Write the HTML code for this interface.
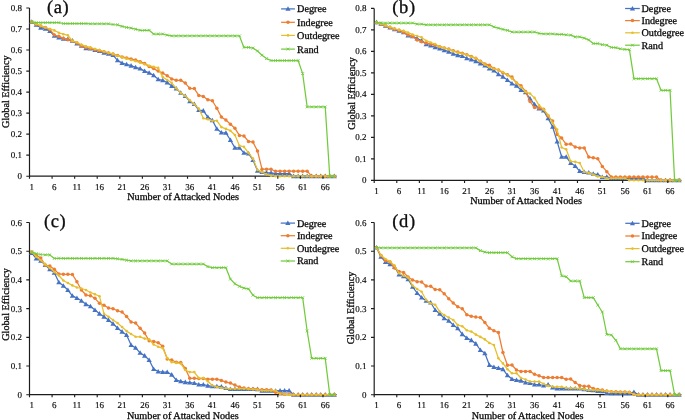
<!DOCTYPE html>
<html><head><meta charset="utf-8"><style>
html,body{margin:0;padding:0;background:#fff;}
svg{display:block;text-rendering:geometricPrecision;}
.tk{font-family:'Liberation Serif',serif;font-size:9px;fill:#0a0a0a;stroke:#0a0a0a;stroke-width:0.15px;}
.ti{font-family:'Liberation Serif',serif;font-size:10.2px;fill:#0a0a0a;stroke:#0a0a0a;stroke-width:0.3px;}
.pl{font-family:'Liberation Serif',serif;font-size:18.5px;fill:#0a0a0a;stroke:#0a0a0a;stroke-width:0.3px;letter-spacing:0.6px;}
</style></head><body>
<svg width="685" height="420" viewBox="0 0 685 420">
<defs><filter id="bl" x="0" y="0" width="100%" height="100%" filterUnits="userSpaceOnUse"><feConvolveMatrix order="3" kernelMatrix="0.0000 0.0000 0.0000 0.0000 1.0000 0.0000 0.0000 0.0000 0.0000" edgeMode="duplicate" preserveAlpha="true"/></filter></defs>
<g filter="url(#bl)">
<rect width="685" height="420" fill="#fff"/>
<path d="M29.50 7.96V176.20H336.52" fill="none" stroke="#1e1e1e" stroke-width="1.2"/>
<polyline points="31.76,21.80 36.27,24.90 40.79,27.70 45.30,28.70 49.82,31.10 54.33,35.90 58.85,37.50 63.36,38.80 67.88,39.10 72.39,40.70 76.91,43.50 81.42,45.80 85.94,48.30 90.45,48.60 94.97,50.00 99.48,51.10 104.00,52.70 108.51,53.70 113.03,55.10 117.54,60.30 122.06,63.10 126.57,64.30 131.09,65.70 135.60,67.40 140.12,68.60 144.63,71.10 149.15,72.90 153.66,75.40 158.18,79.30 162.69,80.30 167.21,82.60 171.72,86.00 176.24,88.60 180.75,92.90 185.27,96.00 189.78,101.40 194.30,104.00 198.81,110.00 203.33,110.70 207.84,117.10 212.36,120.30 216.87,128.90 221.39,132.60 225.90,132.90 230.42,140.00 234.93,147.90 239.45,147.90 243.96,152.90 248.48,153.60 252.99,160.00 257.51,170.70 262.02,172.10 266.54,172.60 271.05,172.90 275.57,173.60 280.08,173.60 284.60,173.60 289.11,173.60 293.63,176.20 298.14,176.20 302.66,176.20 307.17,176.20 311.69,176.20 316.20,176.20 320.72,176.20 325.23,176.20 329.75,176.20 334.26,176.20" fill="none" stroke="#4472C4" stroke-width="1.25" stroke-linejoin="round"/>
<path d="M31.76 19.20L34.36 23.75L29.16 23.75Z" fill="#4472C4"/><path d="M36.27 22.30L38.87 26.85L33.67 26.85Z" fill="#4472C4"/><path d="M40.79 25.10L43.39 29.65L38.19 29.65Z" fill="#4472C4"/><path d="M45.30 26.10L47.90 30.65L42.70 30.65Z" fill="#4472C4"/><path d="M49.82 28.50L52.42 33.05L47.22 33.05Z" fill="#4472C4"/><path d="M54.33 33.30L56.93 37.85L51.73 37.85Z" fill="#4472C4"/><path d="M58.85 34.90L61.45 39.45L56.25 39.45Z" fill="#4472C4"/><path d="M63.36 36.20L65.96 40.75L60.76 40.75Z" fill="#4472C4"/><path d="M67.88 36.50L70.48 41.05L65.28 41.05Z" fill="#4472C4"/><path d="M72.39 38.10L74.99 42.65L69.79 42.65Z" fill="#4472C4"/><path d="M76.91 40.90L79.51 45.45L74.31 45.45Z" fill="#4472C4"/><path d="M81.42 43.20L84.02 47.75L78.82 47.75Z" fill="#4472C4"/><path d="M85.94 45.70L88.54 50.25L83.34 50.25Z" fill="#4472C4"/><path d="M90.45 46.00L93.05 50.55L87.85 50.55Z" fill="#4472C4"/><path d="M94.97 47.40L97.57 51.95L92.37 51.95Z" fill="#4472C4"/><path d="M99.48 48.50L102.08 53.05L96.88 53.05Z" fill="#4472C4"/><path d="M104.00 50.10L106.60 54.65L101.40 54.65Z" fill="#4472C4"/><path d="M108.51 51.10L111.11 55.65L105.91 55.65Z" fill="#4472C4"/><path d="M113.03 52.50L115.63 57.05L110.43 57.05Z" fill="#4472C4"/><path d="M117.54 57.70L120.14 62.25L114.94 62.25Z" fill="#4472C4"/><path d="M122.06 60.50L124.66 65.05L119.46 65.05Z" fill="#4472C4"/><path d="M126.57 61.70L129.17 66.25L123.97 66.25Z" fill="#4472C4"/><path d="M131.09 63.10L133.69 67.65L128.49 67.65Z" fill="#4472C4"/><path d="M135.60 64.80L138.20 69.35L133.00 69.35Z" fill="#4472C4"/><path d="M140.12 66.00L142.72 70.55L137.52 70.55Z" fill="#4472C4"/><path d="M144.63 68.50L147.23 73.05L142.03 73.05Z" fill="#4472C4"/><path d="M149.15 70.30L151.75 74.85L146.55 74.85Z" fill="#4472C4"/><path d="M153.66 72.80L156.26 77.35L151.06 77.35Z" fill="#4472C4"/><path d="M158.18 76.70L160.78 81.25L155.58 81.25Z" fill="#4472C4"/><path d="M162.69 77.70L165.29 82.25L160.09 82.25Z" fill="#4472C4"/><path d="M167.21 80.00L169.81 84.55L164.61 84.55Z" fill="#4472C4"/><path d="M171.72 83.40L174.32 87.95L169.12 87.95Z" fill="#4472C4"/><path d="M176.24 86.00L178.84 90.55L173.64 90.55Z" fill="#4472C4"/><path d="M180.75 90.30L183.35 94.85L178.15 94.85Z" fill="#4472C4"/><path d="M185.27 93.40L187.87 97.95L182.67 97.95Z" fill="#4472C4"/><path d="M189.78 98.80L192.38 103.35L187.18 103.35Z" fill="#4472C4"/><path d="M194.30 101.40L196.90 105.95L191.70 105.95Z" fill="#4472C4"/><path d="M198.81 107.40L201.41 111.95L196.21 111.95Z" fill="#4472C4"/><path d="M203.33 108.10L205.93 112.65L200.73 112.65Z" fill="#4472C4"/><path d="M207.84 114.50L210.44 119.05L205.24 119.05Z" fill="#4472C4"/><path d="M212.36 117.70L214.96 122.25L209.76 122.25Z" fill="#4472C4"/><path d="M216.87 126.30L219.47 130.85L214.27 130.85Z" fill="#4472C4"/><path d="M221.39 130.00L223.99 134.55L218.79 134.55Z" fill="#4472C4"/><path d="M225.90 130.30L228.50 134.85L223.30 134.85Z" fill="#4472C4"/><path d="M230.42 137.40L233.02 141.95L227.82 141.95Z" fill="#4472C4"/><path d="M234.93 145.30L237.53 149.85L232.33 149.85Z" fill="#4472C4"/><path d="M239.45 145.30L242.05 149.85L236.85 149.85Z" fill="#4472C4"/><path d="M243.96 150.30L246.56 154.85L241.36 154.85Z" fill="#4472C4"/><path d="M248.48 151.00L251.08 155.55L245.88 155.55Z" fill="#4472C4"/><path d="M252.99 157.40L255.59 161.95L250.39 161.95Z" fill="#4472C4"/><path d="M257.51 168.10L260.11 172.65L254.91 172.65Z" fill="#4472C4"/><path d="M262.02 169.50L264.62 174.05L259.42 174.05Z" fill="#4472C4"/><path d="M266.54 170.00L269.14 174.55L263.94 174.55Z" fill="#4472C4"/><path d="M271.05 170.30L273.65 174.85L268.45 174.85Z" fill="#4472C4"/><path d="M275.57 171.00L278.17 175.55L272.97 175.55Z" fill="#4472C4"/><path d="M280.08 171.00L282.68 175.55L277.48 175.55Z" fill="#4472C4"/><path d="M284.60 171.00L287.20 175.55L282.00 175.55Z" fill="#4472C4"/><path d="M289.11 171.00L291.71 175.55L286.51 175.55Z" fill="#4472C4"/><path d="M293.63 173.60L296.23 178.15L291.03 178.15Z" fill="#4472C4"/><path d="M298.14 173.60L300.74 178.15L295.54 178.15Z" fill="#4472C4"/><path d="M302.66 173.60L305.26 178.15L300.06 178.15Z" fill="#4472C4"/><path d="M307.17 173.60L309.77 178.15L304.57 178.15Z" fill="#4472C4"/><path d="M311.69 173.60L314.29 178.15L309.09 178.15Z" fill="#4472C4"/><path d="M316.20 173.60L318.80 178.15L313.60 178.15Z" fill="#4472C4"/><path d="M320.72 173.60L323.32 178.15L318.12 178.15Z" fill="#4472C4"/><path d="M325.23 173.60L327.83 178.15L322.63 178.15Z" fill="#4472C4"/><path d="M329.75 173.60L332.35 178.15L327.15 178.15Z" fill="#4472C4"/><path d="M334.26 173.60L336.86 178.15L331.66 178.15Z" fill="#4472C4"/>
<polyline points="31.76,22.00 36.27,24.20 40.79,26.10 45.30,27.50 49.82,29.40 54.33,35.00 58.85,36.30 63.36,38.20 67.88,39.70 72.39,40.90 76.91,43.00 81.42,46.10 85.94,47.50 90.45,48.60 94.97,49.70 99.48,50.80 104.00,51.80 108.51,53.00 113.03,54.10 117.54,55.40 122.06,56.90 126.57,57.90 131.09,58.90 135.60,60.00 140.12,61.70 144.63,63.60 149.15,66.40 153.66,68.60 158.18,71.10 162.69,73.10 167.21,75.70 171.72,78.90 176.24,80.30 180.75,80.30 185.27,83.10 189.78,88.30 194.30,88.60 198.81,95.40 203.33,96.40 207.84,99.70 212.36,100.70 216.87,108.30 221.39,117.10 225.90,120.00 230.42,124.30 234.93,128.30 239.45,135.40 243.96,136.00 248.48,141.40 252.99,142.10 257.51,151.00 262.02,169.20 266.54,169.20 271.05,169.20 275.57,171.20 280.08,171.20 284.60,171.20 289.11,171.20 293.63,171.20 298.14,171.20 302.66,171.20 307.17,171.20 311.69,176.20 316.20,176.20 320.72,176.20 325.23,176.20 329.75,176.20 334.26,176.20" fill="none" stroke="#ED7D31" stroke-width="1.25" stroke-linejoin="round"/>
<circle cx="31.76" cy="22.00" r="1.75" fill="#ED7D31"/><circle cx="36.27" cy="24.20" r="1.75" fill="#ED7D31"/><circle cx="40.79" cy="26.10" r="1.75" fill="#ED7D31"/><circle cx="45.30" cy="27.50" r="1.75" fill="#ED7D31"/><circle cx="49.82" cy="29.40" r="1.75" fill="#ED7D31"/><circle cx="54.33" cy="35.00" r="1.75" fill="#ED7D31"/><circle cx="58.85" cy="36.30" r="1.75" fill="#ED7D31"/><circle cx="63.36" cy="38.20" r="1.75" fill="#ED7D31"/><circle cx="67.88" cy="39.70" r="1.75" fill="#ED7D31"/><circle cx="72.39" cy="40.90" r="1.75" fill="#ED7D31"/><circle cx="76.91" cy="43.00" r="1.75" fill="#ED7D31"/><circle cx="81.42" cy="46.10" r="1.75" fill="#ED7D31"/><circle cx="85.94" cy="47.50" r="1.75" fill="#ED7D31"/><circle cx="90.45" cy="48.60" r="1.75" fill="#ED7D31"/><circle cx="94.97" cy="49.70" r="1.75" fill="#ED7D31"/><circle cx="99.48" cy="50.80" r="1.75" fill="#ED7D31"/><circle cx="104.00" cy="51.80" r="1.75" fill="#ED7D31"/><circle cx="108.51" cy="53.00" r="1.75" fill="#ED7D31"/><circle cx="113.03" cy="54.10" r="1.75" fill="#ED7D31"/><circle cx="117.54" cy="55.40" r="1.75" fill="#ED7D31"/><circle cx="122.06" cy="56.90" r="1.75" fill="#ED7D31"/><circle cx="126.57" cy="57.90" r="1.75" fill="#ED7D31"/><circle cx="131.09" cy="58.90" r="1.75" fill="#ED7D31"/><circle cx="135.60" cy="60.00" r="1.75" fill="#ED7D31"/><circle cx="140.12" cy="61.70" r="1.75" fill="#ED7D31"/><circle cx="144.63" cy="63.60" r="1.75" fill="#ED7D31"/><circle cx="149.15" cy="66.40" r="1.75" fill="#ED7D31"/><circle cx="153.66" cy="68.60" r="1.75" fill="#ED7D31"/><circle cx="158.18" cy="71.10" r="1.75" fill="#ED7D31"/><circle cx="162.69" cy="73.10" r="1.75" fill="#ED7D31"/><circle cx="167.21" cy="75.70" r="1.75" fill="#ED7D31"/><circle cx="171.72" cy="78.90" r="1.75" fill="#ED7D31"/><circle cx="176.24" cy="80.30" r="1.75" fill="#ED7D31"/><circle cx="180.75" cy="80.30" r="1.75" fill="#ED7D31"/><circle cx="185.27" cy="83.10" r="1.75" fill="#ED7D31"/><circle cx="189.78" cy="88.30" r="1.75" fill="#ED7D31"/><circle cx="194.30" cy="88.60" r="1.75" fill="#ED7D31"/><circle cx="198.81" cy="95.40" r="1.75" fill="#ED7D31"/><circle cx="203.33" cy="96.40" r="1.75" fill="#ED7D31"/><circle cx="207.84" cy="99.70" r="1.75" fill="#ED7D31"/><circle cx="212.36" cy="100.70" r="1.75" fill="#ED7D31"/><circle cx="216.87" cy="108.30" r="1.75" fill="#ED7D31"/><circle cx="221.39" cy="117.10" r="1.75" fill="#ED7D31"/><circle cx="225.90" cy="120.00" r="1.75" fill="#ED7D31"/><circle cx="230.42" cy="124.30" r="1.75" fill="#ED7D31"/><circle cx="234.93" cy="128.30" r="1.75" fill="#ED7D31"/><circle cx="239.45" cy="135.40" r="1.75" fill="#ED7D31"/><circle cx="243.96" cy="136.00" r="1.75" fill="#ED7D31"/><circle cx="248.48" cy="141.40" r="1.75" fill="#ED7D31"/><circle cx="252.99" cy="142.10" r="1.75" fill="#ED7D31"/><circle cx="257.51" cy="151.00" r="1.75" fill="#ED7D31"/><circle cx="262.02" cy="169.20" r="1.75" fill="#ED7D31"/><circle cx="266.54" cy="169.20" r="1.75" fill="#ED7D31"/><circle cx="271.05" cy="169.20" r="1.75" fill="#ED7D31"/><circle cx="275.57" cy="171.20" r="1.75" fill="#ED7D31"/><circle cx="280.08" cy="171.20" r="1.75" fill="#ED7D31"/><circle cx="284.60" cy="171.20" r="1.75" fill="#ED7D31"/><circle cx="289.11" cy="171.20" r="1.75" fill="#ED7D31"/><circle cx="293.63" cy="171.20" r="1.75" fill="#ED7D31"/><circle cx="298.14" cy="171.20" r="1.75" fill="#ED7D31"/><circle cx="302.66" cy="171.20" r="1.75" fill="#ED7D31"/><circle cx="307.17" cy="171.20" r="1.75" fill="#ED7D31"/><circle cx="311.69" cy="176.20" r="1.75" fill="#ED7D31"/><circle cx="316.20" cy="176.20" r="1.75" fill="#ED7D31"/><circle cx="320.72" cy="176.20" r="1.75" fill="#ED7D31"/><circle cx="325.23" cy="176.20" r="1.75" fill="#ED7D31"/><circle cx="329.75" cy="176.20" r="1.75" fill="#ED7D31"/><circle cx="334.26" cy="176.20" r="1.75" fill="#ED7D31"/>
<polyline points="31.76,21.80 36.27,23.90 40.79,25.80 45.30,27.50 49.82,29.00 54.33,30.40 58.85,32.80 63.36,34.20 67.88,35.30 72.39,40.90 76.91,42.30 81.42,44.70 85.94,46.40 90.45,47.40 94.97,49.00 99.48,50.00 104.00,51.50 108.51,52.70 113.03,54.10 117.54,55.70 122.06,57.40 126.57,58.60 131.09,60.00 135.60,61.10 140.12,62.60 144.63,64.30 149.15,65.70 153.66,66.90 158.18,67.90 162.69,77.10 167.21,80.00 171.72,82.90 176.24,88.30 180.75,92.90 185.27,96.00 189.78,100.30 194.30,104.30 198.81,108.60 203.33,118.30 207.84,119.30 212.36,120.70 216.87,120.70 221.39,127.10 225.90,128.90 230.42,130.70 234.93,135.00 239.45,145.70 243.96,146.90 248.48,152.90 252.99,158.60 257.51,170.00 262.02,172.10 266.54,174.30 271.05,175.70 275.57,176.20 280.08,176.20 284.60,176.20 289.11,176.20 293.63,176.20 298.14,176.20 302.66,176.20 307.17,176.20 311.69,176.20 316.20,176.20 320.72,176.20 325.23,176.20 329.75,176.20 334.26,176.20" fill="none" stroke="#E6BF2D" stroke-width="1.25" stroke-linejoin="round"/>
<circle cx="31.76" cy="21.80" r="1.3" fill="#E6BF2D"/><circle cx="36.27" cy="23.90" r="1.3" fill="#E6BF2D"/><circle cx="40.79" cy="25.80" r="1.3" fill="#E6BF2D"/><circle cx="45.30" cy="27.50" r="1.3" fill="#E6BF2D"/><circle cx="49.82" cy="29.00" r="1.3" fill="#E6BF2D"/><circle cx="54.33" cy="30.40" r="1.3" fill="#E6BF2D"/><circle cx="58.85" cy="32.80" r="1.3" fill="#E6BF2D"/><circle cx="63.36" cy="34.20" r="1.3" fill="#E6BF2D"/><circle cx="67.88" cy="35.30" r="1.3" fill="#E6BF2D"/><circle cx="72.39" cy="40.90" r="1.3" fill="#E6BF2D"/><circle cx="76.91" cy="42.30" r="1.3" fill="#E6BF2D"/><circle cx="81.42" cy="44.70" r="1.3" fill="#E6BF2D"/><circle cx="85.94" cy="46.40" r="1.3" fill="#E6BF2D"/><circle cx="90.45" cy="47.40" r="1.3" fill="#E6BF2D"/><circle cx="94.97" cy="49.00" r="1.3" fill="#E6BF2D"/><circle cx="99.48" cy="50.00" r="1.3" fill="#E6BF2D"/><circle cx="104.00" cy="51.50" r="1.3" fill="#E6BF2D"/><circle cx="108.51" cy="52.70" r="1.3" fill="#E6BF2D"/><circle cx="113.03" cy="54.10" r="1.3" fill="#E6BF2D"/><circle cx="117.54" cy="55.70" r="1.3" fill="#E6BF2D"/><circle cx="122.06" cy="57.40" r="1.3" fill="#E6BF2D"/><circle cx="126.57" cy="58.60" r="1.3" fill="#E6BF2D"/><circle cx="131.09" cy="60.00" r="1.3" fill="#E6BF2D"/><circle cx="135.60" cy="61.10" r="1.3" fill="#E6BF2D"/><circle cx="140.12" cy="62.60" r="1.3" fill="#E6BF2D"/><circle cx="144.63" cy="64.30" r="1.3" fill="#E6BF2D"/><circle cx="149.15" cy="65.70" r="1.3" fill="#E6BF2D"/><circle cx="153.66" cy="66.90" r="1.3" fill="#E6BF2D"/><circle cx="158.18" cy="67.90" r="1.3" fill="#E6BF2D"/><circle cx="162.69" cy="77.10" r="1.3" fill="#E6BF2D"/><circle cx="167.21" cy="80.00" r="1.3" fill="#E6BF2D"/><circle cx="171.72" cy="82.90" r="1.3" fill="#E6BF2D"/><circle cx="176.24" cy="88.30" r="1.3" fill="#E6BF2D"/><circle cx="180.75" cy="92.90" r="1.3" fill="#E6BF2D"/><circle cx="185.27" cy="96.00" r="1.3" fill="#E6BF2D"/><circle cx="189.78" cy="100.30" r="1.3" fill="#E6BF2D"/><circle cx="194.30" cy="104.30" r="1.3" fill="#E6BF2D"/><circle cx="198.81" cy="108.60" r="1.3" fill="#E6BF2D"/><circle cx="203.33" cy="118.30" r="1.3" fill="#E6BF2D"/><circle cx="207.84" cy="119.30" r="1.3" fill="#E6BF2D"/><circle cx="212.36" cy="120.70" r="1.3" fill="#E6BF2D"/><circle cx="216.87" cy="120.70" r="1.3" fill="#E6BF2D"/><circle cx="221.39" cy="127.10" r="1.3" fill="#E6BF2D"/><circle cx="225.90" cy="128.90" r="1.3" fill="#E6BF2D"/><circle cx="230.42" cy="130.70" r="1.3" fill="#E6BF2D"/><circle cx="234.93" cy="135.00" r="1.3" fill="#E6BF2D"/><circle cx="239.45" cy="145.70" r="1.3" fill="#E6BF2D"/><circle cx="243.96" cy="146.90" r="1.3" fill="#E6BF2D"/><circle cx="248.48" cy="152.90" r="1.3" fill="#E6BF2D"/><circle cx="252.99" cy="158.60" r="1.3" fill="#E6BF2D"/><circle cx="257.51" cy="170.00" r="1.3" fill="#E6BF2D"/><circle cx="262.02" cy="172.10" r="1.3" fill="#E6BF2D"/><circle cx="266.54" cy="174.30" r="1.3" fill="#E6BF2D"/><circle cx="271.05" cy="175.70" r="1.3" fill="#E6BF2D"/><circle cx="275.57" cy="176.20" r="1.3" fill="#E6BF2D"/><circle cx="280.08" cy="176.20" r="1.3" fill="#E6BF2D"/><circle cx="284.60" cy="176.20" r="1.3" fill="#E6BF2D"/><circle cx="289.11" cy="176.20" r="1.3" fill="#E6BF2D"/><circle cx="293.63" cy="176.20" r="1.3" fill="#E6BF2D"/><circle cx="298.14" cy="176.20" r="1.3" fill="#E6BF2D"/><circle cx="302.66" cy="176.20" r="1.3" fill="#E6BF2D"/><circle cx="307.17" cy="176.20" r="1.3" fill="#E6BF2D"/><circle cx="311.69" cy="176.20" r="1.3" fill="#E6BF2D"/><circle cx="316.20" cy="176.20" r="1.3" fill="#E6BF2D"/><circle cx="320.72" cy="176.20" r="1.3" fill="#E6BF2D"/><circle cx="325.23" cy="176.20" r="1.3" fill="#E6BF2D"/><circle cx="329.75" cy="176.20" r="1.3" fill="#E6BF2D"/><circle cx="334.26" cy="176.20" r="1.3" fill="#E6BF2D"/>
<polyline points="31.76,21.80 36.27,22.60 40.79,22.60 45.30,22.60 49.82,22.60 54.33,22.60 58.85,22.60 63.36,23.50 67.88,23.50 72.39,23.50 76.91,23.50 81.42,23.50 85.94,23.50 90.45,23.80 94.97,23.80 99.48,23.80 104.00,23.80 108.51,23.80 113.03,24.50 117.54,24.80 122.06,26.40 126.57,27.40 131.09,28.10 135.60,29.20 140.12,30.30 144.63,30.30 149.15,30.30 153.66,34.00 158.18,34.00 162.69,34.00 167.21,35.10 171.72,35.90 176.24,35.90 180.75,35.90 185.27,35.90 189.78,35.90 194.30,35.90 198.81,35.90 203.33,35.90 207.84,35.90 212.36,35.90 216.87,35.90 221.39,35.90 225.90,35.90 230.42,35.90 234.93,35.90 239.45,35.90 243.96,47.40 248.48,47.40 252.99,48.10 257.51,51.00 262.02,55.20 266.54,58.60 271.05,60.50 275.57,60.50 280.08,60.50 284.60,60.50 289.11,60.50 293.63,60.50 298.14,60.50 302.66,73.60 307.17,106.90 311.69,106.90 316.20,106.90 320.72,106.90 325.23,106.90 329.75,176.20 334.26,176.20" fill="none" stroke="#72CB3E" stroke-width="1.25" stroke-linejoin="round"/>
<path d="M30.36 20.40L33.16 23.20M30.36 23.20L33.16 20.40" stroke="#72CB3E" stroke-width="0.9"/><path d="M34.87 21.20L37.67 24.00M34.87 24.00L37.67 21.20" stroke="#72CB3E" stroke-width="0.9"/><path d="M39.39 21.20L42.19 24.00M39.39 24.00L42.19 21.20" stroke="#72CB3E" stroke-width="0.9"/><path d="M43.90 21.20L46.70 24.00M43.90 24.00L46.70 21.20" stroke="#72CB3E" stroke-width="0.9"/><path d="M48.42 21.20L51.22 24.00M48.42 24.00L51.22 21.20" stroke="#72CB3E" stroke-width="0.9"/><path d="M52.93 21.20L55.73 24.00M52.93 24.00L55.73 21.20" stroke="#72CB3E" stroke-width="0.9"/><path d="M57.45 21.20L60.25 24.00M57.45 24.00L60.25 21.20" stroke="#72CB3E" stroke-width="0.9"/><path d="M61.96 22.10L64.76 24.90M61.96 24.90L64.76 22.10" stroke="#72CB3E" stroke-width="0.9"/><path d="M66.48 22.10L69.28 24.90M66.48 24.90L69.28 22.10" stroke="#72CB3E" stroke-width="0.9"/><path d="M70.99 22.10L73.79 24.90M70.99 24.90L73.79 22.10" stroke="#72CB3E" stroke-width="0.9"/><path d="M75.51 22.10L78.31 24.90M75.51 24.90L78.31 22.10" stroke="#72CB3E" stroke-width="0.9"/><path d="M80.02 22.10L82.82 24.90M80.02 24.90L82.82 22.10" stroke="#72CB3E" stroke-width="0.9"/><path d="M84.54 22.10L87.34 24.90M84.54 24.90L87.34 22.10" stroke="#72CB3E" stroke-width="0.9"/><path d="M89.05 22.40L91.85 25.20M89.05 25.20L91.85 22.40" stroke="#72CB3E" stroke-width="0.9"/><path d="M93.57 22.40L96.37 25.20M93.57 25.20L96.37 22.40" stroke="#72CB3E" stroke-width="0.9"/><path d="M98.08 22.40L100.88 25.20M98.08 25.20L100.88 22.40" stroke="#72CB3E" stroke-width="0.9"/><path d="M102.60 22.40L105.40 25.20M102.60 25.20L105.40 22.40" stroke="#72CB3E" stroke-width="0.9"/><path d="M107.11 22.40L109.91 25.20M107.11 25.20L109.91 22.40" stroke="#72CB3E" stroke-width="0.9"/><path d="M111.63 23.10L114.43 25.90M111.63 25.90L114.43 23.10" stroke="#72CB3E" stroke-width="0.9"/><path d="M116.14 23.40L118.94 26.20M116.14 26.20L118.94 23.40" stroke="#72CB3E" stroke-width="0.9"/><path d="M120.66 25.00L123.46 27.80M120.66 27.80L123.46 25.00" stroke="#72CB3E" stroke-width="0.9"/><path d="M125.17 26.00L127.97 28.80M125.17 28.80L127.97 26.00" stroke="#72CB3E" stroke-width="0.9"/><path d="M129.69 26.70L132.49 29.50M129.69 29.50L132.49 26.70" stroke="#72CB3E" stroke-width="0.9"/><path d="M134.20 27.80L137.00 30.60M134.20 30.60L137.00 27.80" stroke="#72CB3E" stroke-width="0.9"/><path d="M138.72 28.90L141.52 31.70M138.72 31.70L141.52 28.90" stroke="#72CB3E" stroke-width="0.9"/><path d="M143.23 28.90L146.03 31.70M143.23 31.70L146.03 28.90" stroke="#72CB3E" stroke-width="0.9"/><path d="M147.75 28.90L150.55 31.70M147.75 31.70L150.55 28.90" stroke="#72CB3E" stroke-width="0.9"/><path d="M152.26 32.60L155.06 35.40M152.26 35.40L155.06 32.60" stroke="#72CB3E" stroke-width="0.9"/><path d="M156.78 32.60L159.58 35.40M156.78 35.40L159.58 32.60" stroke="#72CB3E" stroke-width="0.9"/><path d="M161.29 32.60L164.09 35.40M161.29 35.40L164.09 32.60" stroke="#72CB3E" stroke-width="0.9"/><path d="M165.81 33.70L168.61 36.50M165.81 36.50L168.61 33.70" stroke="#72CB3E" stroke-width="0.9"/><path d="M170.32 34.50L173.12 37.30M170.32 37.30L173.12 34.50" stroke="#72CB3E" stroke-width="0.9"/><path d="M174.84 34.50L177.64 37.30M174.84 37.30L177.64 34.50" stroke="#72CB3E" stroke-width="0.9"/><path d="M179.35 34.50L182.15 37.30M179.35 37.30L182.15 34.50" stroke="#72CB3E" stroke-width="0.9"/><path d="M183.87 34.50L186.67 37.30M183.87 37.30L186.67 34.50" stroke="#72CB3E" stroke-width="0.9"/><path d="M188.38 34.50L191.18 37.30M188.38 37.30L191.18 34.50" stroke="#72CB3E" stroke-width="0.9"/><path d="M192.90 34.50L195.70 37.30M192.90 37.30L195.70 34.50" stroke="#72CB3E" stroke-width="0.9"/><path d="M197.41 34.50L200.21 37.30M197.41 37.30L200.21 34.50" stroke="#72CB3E" stroke-width="0.9"/><path d="M201.93 34.50L204.73 37.30M201.93 37.30L204.73 34.50" stroke="#72CB3E" stroke-width="0.9"/><path d="M206.44 34.50L209.24 37.30M206.44 37.30L209.24 34.50" stroke="#72CB3E" stroke-width="0.9"/><path d="M210.96 34.50L213.76 37.30M210.96 37.30L213.76 34.50" stroke="#72CB3E" stroke-width="0.9"/><path d="M215.47 34.50L218.27 37.30M215.47 37.30L218.27 34.50" stroke="#72CB3E" stroke-width="0.9"/><path d="M219.99 34.50L222.79 37.30M219.99 37.30L222.79 34.50" stroke="#72CB3E" stroke-width="0.9"/><path d="M224.50 34.50L227.30 37.30M224.50 37.30L227.30 34.50" stroke="#72CB3E" stroke-width="0.9"/><path d="M229.02 34.50L231.82 37.30M229.02 37.30L231.82 34.50" stroke="#72CB3E" stroke-width="0.9"/><path d="M233.53 34.50L236.33 37.30M233.53 37.30L236.33 34.50" stroke="#72CB3E" stroke-width="0.9"/><path d="M238.05 34.50L240.85 37.30M238.05 37.30L240.85 34.50" stroke="#72CB3E" stroke-width="0.9"/><path d="M242.56 46.00L245.36 48.80M242.56 48.80L245.36 46.00" stroke="#72CB3E" stroke-width="0.9"/><path d="M247.08 46.00L249.88 48.80M247.08 48.80L249.88 46.00" stroke="#72CB3E" stroke-width="0.9"/><path d="M251.59 46.70L254.39 49.50M251.59 49.50L254.39 46.70" stroke="#72CB3E" stroke-width="0.9"/><path d="M256.11 49.60L258.91 52.40M256.11 52.40L258.91 49.60" stroke="#72CB3E" stroke-width="0.9"/><path d="M260.62 53.80L263.42 56.60M260.62 56.60L263.42 53.80" stroke="#72CB3E" stroke-width="0.9"/><path d="M265.14 57.20L267.94 60.00M265.14 60.00L267.94 57.20" stroke="#72CB3E" stroke-width="0.9"/><path d="M269.65 59.10L272.45 61.90M269.65 61.90L272.45 59.10" stroke="#72CB3E" stroke-width="0.9"/><path d="M274.17 59.10L276.97 61.90M274.17 61.90L276.97 59.10" stroke="#72CB3E" stroke-width="0.9"/><path d="M278.68 59.10L281.48 61.90M278.68 61.90L281.48 59.10" stroke="#72CB3E" stroke-width="0.9"/><path d="M283.20 59.10L286.00 61.90M283.20 61.90L286.00 59.10" stroke="#72CB3E" stroke-width="0.9"/><path d="M287.71 59.10L290.51 61.90M287.71 61.90L290.51 59.10" stroke="#72CB3E" stroke-width="0.9"/><path d="M292.23 59.10L295.03 61.90M292.23 61.90L295.03 59.10" stroke="#72CB3E" stroke-width="0.9"/><path d="M296.74 59.10L299.54 61.90M296.74 61.90L299.54 59.10" stroke="#72CB3E" stroke-width="0.9"/><path d="M301.26 72.20L304.06 75.00M301.26 75.00L304.06 72.20" stroke="#72CB3E" stroke-width="0.9"/><path d="M305.77 105.50L308.57 108.30M305.77 108.30L308.57 105.50" stroke="#72CB3E" stroke-width="0.9"/><path d="M310.29 105.50L313.09 108.30M310.29 108.30L313.09 105.50" stroke="#72CB3E" stroke-width="0.9"/><path d="M314.80 105.50L317.60 108.30M314.80 108.30L317.60 105.50" stroke="#72CB3E" stroke-width="0.9"/><path d="M319.32 105.50L322.12 108.30M319.32 108.30L322.12 105.50" stroke="#72CB3E" stroke-width="0.9"/><path d="M323.83 105.50L326.63 108.30M323.83 108.30L326.63 105.50" stroke="#72CB3E" stroke-width="0.9"/><path d="M328.35 174.80L331.15 177.60M328.35 177.60L331.15 174.80" stroke="#72CB3E" stroke-width="0.9"/><path d="M332.86 174.80L335.66 177.60M332.86 177.60L335.66 174.80" stroke="#72CB3E" stroke-width="0.9"/>
<path d="M26.30 176.20H29.50M26.30 155.17H29.50M26.30 134.14H29.50M26.30 113.11H29.50M26.30 92.08H29.50M26.30 71.05H29.50M26.30 50.02H29.50M26.30 28.99H29.50M26.30 7.96H29.50M29.50 176.20V178.80M52.08 176.20V178.80M74.65 176.20V178.80M97.22 176.20V178.80M119.80 176.20V178.80M142.38 176.20V178.80M164.95 176.20V178.80M187.52 176.20V178.80M210.10 176.20V178.80M232.67 176.20V178.80M255.25 176.20V178.80M277.82 176.20V178.80M300.40 176.20V178.80M322.97 176.20V178.80" stroke="#1e1e1e" stroke-width="1.15"/>
<text x="21.90" y="179.20" text-anchor="end" class="tk">0</text>
<text x="21.90" y="158.17" text-anchor="end" class="tk">0.1</text>
<text x="21.90" y="137.14" text-anchor="end" class="tk">0.2</text>
<text x="21.90" y="116.11" text-anchor="end" class="tk">0.3</text>
<text x="21.90" y="95.08" text-anchor="end" class="tk">0.4</text>
<text x="21.90" y="74.05" text-anchor="end" class="tk">0.5</text>
<text x="21.90" y="53.02" text-anchor="end" class="tk">0.6</text>
<text x="21.90" y="31.99" text-anchor="end" class="tk">0.7</text>
<text x="21.90" y="10.96" text-anchor="end" class="tk">0.8</text>
<text x="31.76" y="190.00" text-anchor="middle" class="tk">1</text>
<text x="54.33" y="190.00" text-anchor="middle" class="tk">6</text>
<text x="76.91" y="190.00" text-anchor="middle" class="tk">11</text>
<text x="99.48" y="190.00" text-anchor="middle" class="tk">16</text>
<text x="122.06" y="190.00" text-anchor="middle" class="tk">21</text>
<text x="144.63" y="190.00" text-anchor="middle" class="tk">26</text>
<text x="167.21" y="190.00" text-anchor="middle" class="tk">31</text>
<text x="189.78" y="190.00" text-anchor="middle" class="tk">36</text>
<text x="212.36" y="190.00" text-anchor="middle" class="tk">41</text>
<text x="234.93" y="190.00" text-anchor="middle" class="tk">46</text>
<text x="257.51" y="190.00" text-anchor="middle" class="tk">51</text>
<text x="280.08" y="190.00" text-anchor="middle" class="tk">56</text>
<text x="302.66" y="190.00" text-anchor="middle" class="tk">61</text>
<text x="325.23" y="190.00" text-anchor="middle" class="tk">66</text>
<text x="183.10" y="200.30" text-anchor="middle" class="ti">Number of Attacked Nodes</text>
<text transform="translate(8.80,91.70) rotate(-90)" text-anchor="middle" class="ti">Global Efficiency</text>
<text x="47.00" y="12.80" class="pl">(a)</text>
<path d="M281.10 8.90H294.90" stroke="#4472C4" stroke-width="1.25"/>
<path d="M288.00 6.30L290.60 10.85L285.40 10.85Z" fill="#4472C4"/>
<text x="297.10" y="12.30" class="ti">Degree</text>
<path d="M281.10 22.30H294.90" stroke="#ED7D31" stroke-width="1.25"/>
<circle cx="288.00" cy="22.30" r="1.75" fill="#ED7D31"/>
<text x="297.10" y="25.70" class="ti">Indegree</text>
<path d="M281.10 35.40H294.90" stroke="#E6BF2D" stroke-width="1.25"/>
<circle cx="288.00" cy="35.40" r="1.3" fill="#E6BF2D"/>
<text x="297.10" y="38.80" class="ti">Outdegree</text>
<path d="M281.10 49.10H294.90" stroke="#72CB3E" stroke-width="1.25"/>
<path d="M286.60 47.70L289.40 50.50M286.60 50.50L289.40 47.70" stroke="#72CB3E" stroke-width="0.9"/>
<text x="297.10" y="52.50" class="ti">Rand</text>
<path d="M374.20 8.38V180.30H681.36" fill="none" stroke="#1e1e1e" stroke-width="1.2"/>
<polyline points="376.46,22.30 380.98,23.90 385.49,25.80 390.01,27.50 394.53,29.30 399.04,30.80 403.56,32.20 408.08,35.50 412.59,36.40 417.11,38.60 421.63,40.50 426.15,44.30 430.66,45.50 435.18,47.30 439.70,48.50 444.21,50.20 448.73,51.70 453.25,53.80 457.76,55.20 462.28,56.00 466.80,58.30 471.32,59.50 475.83,61.20 480.35,63.60 484.87,65.50 489.38,68.60 493.90,70.50 498.42,74.30 502.93,76.70 507.45,80.00 511.97,83.60 516.49,85.70 521.00,90.00 525.52,92.40 530.04,98.60 534.55,104.30 539.07,108.60 543.59,110.60 548.10,118.40 552.62,126.80 557.14,141.60 561.66,156.80 566.17,156.80 570.69,163.00 575.21,166.10 579.72,171.10 584.24,172.00 588.76,172.50 593.27,173.80 597.79,174.60 602.31,177.00 606.83,176.90 611.34,178.30 615.86,178.30 620.38,178.30 624.89,178.30 629.41,178.30 633.93,178.30 638.44,178.30 642.96,178.30 647.48,180.30 652.00,180.30 656.51,180.30 661.03,180.30 665.55,180.30 670.06,180.30 674.58,180.30 679.10,180.30" fill="none" stroke="#4472C4" stroke-width="1.25" stroke-linejoin="round"/>
<path d="M376.46 19.70L379.06 24.25L373.86 24.25Z" fill="#4472C4"/><path d="M380.98 21.30L383.58 25.85L378.38 25.85Z" fill="#4472C4"/><path d="M385.49 23.20L388.09 27.75L382.89 27.75Z" fill="#4472C4"/><path d="M390.01 24.90L392.61 29.45L387.41 29.45Z" fill="#4472C4"/><path d="M394.53 26.70L397.13 31.25L391.93 31.25Z" fill="#4472C4"/><path d="M399.04 28.20L401.64 32.75L396.44 32.75Z" fill="#4472C4"/><path d="M403.56 29.60L406.16 34.15L400.96 34.15Z" fill="#4472C4"/><path d="M408.08 32.90L410.68 37.45L405.48 37.45Z" fill="#4472C4"/><path d="M412.59 33.80L415.19 38.35L409.99 38.35Z" fill="#4472C4"/><path d="M417.11 36.00L419.71 40.55L414.51 40.55Z" fill="#4472C4"/><path d="M421.63 37.90L424.23 42.45L419.03 42.45Z" fill="#4472C4"/><path d="M426.15 41.70L428.75 46.25L423.55 46.25Z" fill="#4472C4"/><path d="M430.66 42.90L433.26 47.45L428.06 47.45Z" fill="#4472C4"/><path d="M435.18 44.70L437.78 49.25L432.58 49.25Z" fill="#4472C4"/><path d="M439.70 45.90L442.30 50.45L437.10 50.45Z" fill="#4472C4"/><path d="M444.21 47.60L446.81 52.15L441.61 52.15Z" fill="#4472C4"/><path d="M448.73 49.10L451.33 53.65L446.13 53.65Z" fill="#4472C4"/><path d="M453.25 51.20L455.85 55.75L450.65 55.75Z" fill="#4472C4"/><path d="M457.76 52.60L460.36 57.15L455.16 57.15Z" fill="#4472C4"/><path d="M462.28 53.40L464.88 57.95L459.68 57.95Z" fill="#4472C4"/><path d="M466.80 55.70L469.40 60.25L464.20 60.25Z" fill="#4472C4"/><path d="M471.32 56.90L473.92 61.45L468.72 61.45Z" fill="#4472C4"/><path d="M475.83 58.60L478.43 63.15L473.23 63.15Z" fill="#4472C4"/><path d="M480.35 61.00L482.95 65.55L477.75 65.55Z" fill="#4472C4"/><path d="M484.87 62.90L487.47 67.45L482.27 67.45Z" fill="#4472C4"/><path d="M489.38 66.00L491.98 70.55L486.78 70.55Z" fill="#4472C4"/><path d="M493.90 67.90L496.50 72.45L491.30 72.45Z" fill="#4472C4"/><path d="M498.42 71.70L501.02 76.25L495.82 76.25Z" fill="#4472C4"/><path d="M502.93 74.10L505.53 78.65L500.33 78.65Z" fill="#4472C4"/><path d="M507.45 77.40L510.05 81.95L504.85 81.95Z" fill="#4472C4"/><path d="M511.97 81.00L514.57 85.55L509.37 85.55Z" fill="#4472C4"/><path d="M516.49 83.10L519.09 87.65L513.89 87.65Z" fill="#4472C4"/><path d="M521.00 87.40L523.60 91.95L518.40 91.95Z" fill="#4472C4"/><path d="M525.52 89.80L528.12 94.35L522.92 94.35Z" fill="#4472C4"/><path d="M530.04 96.00L532.64 100.55L527.44 100.55Z" fill="#4472C4"/><path d="M534.55 101.70L537.15 106.25L531.95 106.25Z" fill="#4472C4"/><path d="M539.07 106.00L541.67 110.55L536.47 110.55Z" fill="#4472C4"/><path d="M543.59 108.00L546.19 112.55L540.99 112.55Z" fill="#4472C4"/><path d="M548.10 115.80L550.70 120.35L545.50 120.35Z" fill="#4472C4"/><path d="M552.62 124.20L555.22 128.75L550.02 128.75Z" fill="#4472C4"/><path d="M557.14 139.00L559.74 143.55L554.54 143.55Z" fill="#4472C4"/><path d="M561.66 154.20L564.26 158.75L559.06 158.75Z" fill="#4472C4"/><path d="M566.17 154.20L568.77 158.75L563.57 158.75Z" fill="#4472C4"/><path d="M570.69 160.40L573.29 164.95L568.09 164.95Z" fill="#4472C4"/><path d="M575.21 163.50L577.81 168.05L572.61 168.05Z" fill="#4472C4"/><path d="M579.72 168.50L582.32 173.05L577.12 173.05Z" fill="#4472C4"/><path d="M584.24 169.40L586.84 173.95L581.64 173.95Z" fill="#4472C4"/><path d="M588.76 169.90L591.36 174.45L586.16 174.45Z" fill="#4472C4"/><path d="M593.27 171.20L595.87 175.75L590.67 175.75Z" fill="#4472C4"/><path d="M597.79 172.00L600.39 176.55L595.19 176.55Z" fill="#4472C4"/><path d="M602.31 174.40L604.91 178.95L599.71 178.95Z" fill="#4472C4"/><path d="M606.83 174.30L609.43 178.85L604.23 178.85Z" fill="#4472C4"/><path d="M611.34 175.70L613.94 180.25L608.74 180.25Z" fill="#4472C4"/><path d="M615.86 175.70L618.46 180.25L613.26 180.25Z" fill="#4472C4"/><path d="M620.38 175.70L622.98 180.25L617.78 180.25Z" fill="#4472C4"/><path d="M624.89 175.70L627.49 180.25L622.29 180.25Z" fill="#4472C4"/><path d="M629.41 175.70L632.01 180.25L626.81 180.25Z" fill="#4472C4"/><path d="M633.93 175.70L636.53 180.25L631.33 180.25Z" fill="#4472C4"/><path d="M638.44 175.70L641.04 180.25L635.84 180.25Z" fill="#4472C4"/><path d="M642.96 175.70L645.56 180.25L640.36 180.25Z" fill="#4472C4"/><path d="M647.48 177.70L650.08 182.25L644.88 182.25Z" fill="#4472C4"/><path d="M652.00 177.70L654.60 182.25L649.40 182.25Z" fill="#4472C4"/><path d="M656.51 177.70L659.11 182.25L653.91 182.25Z" fill="#4472C4"/><path d="M661.03 177.70L663.63 182.25L658.43 182.25Z" fill="#4472C4"/><path d="M665.55 177.70L668.15 182.25L662.95 182.25Z" fill="#4472C4"/><path d="M670.06 177.70L672.66 182.25L667.46 182.25Z" fill="#4472C4"/><path d="M674.58 177.70L677.18 182.25L671.98 182.25Z" fill="#4472C4"/><path d="M679.10 177.70L681.70 182.25L676.50 182.25Z" fill="#4472C4"/>
<polyline points="376.46,22.70 380.98,24.10 385.49,25.70 390.01,27.50 394.53,29.20 399.04,30.30 403.56,32.20 408.08,35.00 412.59,36.40 417.11,39.90 421.63,41.70 426.15,42.90 430.66,44.00 435.18,45.20 439.70,46.70 444.21,47.90 448.73,49.00 453.25,50.80 457.76,52.00 462.28,53.20 466.80,54.80 471.32,56.40 475.83,58.30 480.35,61.20 484.87,63.90 489.38,65.20 493.90,68.50 498.42,70.00 502.93,72.90 507.45,74.70 511.97,77.10 516.49,82.90 521.00,85.70 525.52,91.40 530.04,101.40 534.55,107.60 539.07,108.10 543.59,109.30 548.10,116.10 552.62,121.10 557.14,134.50 561.66,138.00 566.17,144.30 570.69,143.90 575.21,147.00 579.72,147.90 584.24,147.90 588.76,157.10 593.27,157.80 597.79,158.70 602.31,166.40 606.83,171.70 611.34,177.00 615.86,177.00 620.38,177.00 624.89,177.00 629.41,177.00 633.93,177.00 638.44,177.00 642.96,177.00 647.48,177.00 652.00,177.00 656.51,177.00 661.03,180.30 665.55,180.30 670.06,180.30 674.58,180.30 679.10,180.30" fill="none" stroke="#ED7D31" stroke-width="1.25" stroke-linejoin="round"/>
<circle cx="376.46" cy="22.70" r="1.75" fill="#ED7D31"/><circle cx="380.98" cy="24.10" r="1.75" fill="#ED7D31"/><circle cx="385.49" cy="25.70" r="1.75" fill="#ED7D31"/><circle cx="390.01" cy="27.50" r="1.75" fill="#ED7D31"/><circle cx="394.53" cy="29.20" r="1.75" fill="#ED7D31"/><circle cx="399.04" cy="30.30" r="1.75" fill="#ED7D31"/><circle cx="403.56" cy="32.20" r="1.75" fill="#ED7D31"/><circle cx="408.08" cy="35.00" r="1.75" fill="#ED7D31"/><circle cx="412.59" cy="36.40" r="1.75" fill="#ED7D31"/><circle cx="417.11" cy="39.90" r="1.75" fill="#ED7D31"/><circle cx="421.63" cy="41.70" r="1.75" fill="#ED7D31"/><circle cx="426.15" cy="42.90" r="1.75" fill="#ED7D31"/><circle cx="430.66" cy="44.00" r="1.75" fill="#ED7D31"/><circle cx="435.18" cy="45.20" r="1.75" fill="#ED7D31"/><circle cx="439.70" cy="46.70" r="1.75" fill="#ED7D31"/><circle cx="444.21" cy="47.90" r="1.75" fill="#ED7D31"/><circle cx="448.73" cy="49.00" r="1.75" fill="#ED7D31"/><circle cx="453.25" cy="50.80" r="1.75" fill="#ED7D31"/><circle cx="457.76" cy="52.00" r="1.75" fill="#ED7D31"/><circle cx="462.28" cy="53.20" r="1.75" fill="#ED7D31"/><circle cx="466.80" cy="54.80" r="1.75" fill="#ED7D31"/><circle cx="471.32" cy="56.40" r="1.75" fill="#ED7D31"/><circle cx="475.83" cy="58.30" r="1.75" fill="#ED7D31"/><circle cx="480.35" cy="61.20" r="1.75" fill="#ED7D31"/><circle cx="484.87" cy="63.90" r="1.75" fill="#ED7D31"/><circle cx="489.38" cy="65.20" r="1.75" fill="#ED7D31"/><circle cx="493.90" cy="68.50" r="1.75" fill="#ED7D31"/><circle cx="498.42" cy="70.00" r="1.75" fill="#ED7D31"/><circle cx="502.93" cy="72.90" r="1.75" fill="#ED7D31"/><circle cx="507.45" cy="74.70" r="1.75" fill="#ED7D31"/><circle cx="511.97" cy="77.10" r="1.75" fill="#ED7D31"/><circle cx="516.49" cy="82.90" r="1.75" fill="#ED7D31"/><circle cx="521.00" cy="85.70" r="1.75" fill="#ED7D31"/><circle cx="525.52" cy="91.40" r="1.75" fill="#ED7D31"/><circle cx="530.04" cy="101.40" r="1.75" fill="#ED7D31"/><circle cx="534.55" cy="107.60" r="1.75" fill="#ED7D31"/><circle cx="539.07" cy="108.10" r="1.75" fill="#ED7D31"/><circle cx="543.59" cy="109.30" r="1.75" fill="#ED7D31"/><circle cx="548.10" cy="116.10" r="1.75" fill="#ED7D31"/><circle cx="552.62" cy="121.10" r="1.75" fill="#ED7D31"/><circle cx="557.14" cy="134.50" r="1.75" fill="#ED7D31"/><circle cx="561.66" cy="138.00" r="1.75" fill="#ED7D31"/><circle cx="566.17" cy="144.30" r="1.75" fill="#ED7D31"/><circle cx="570.69" cy="143.90" r="1.75" fill="#ED7D31"/><circle cx="575.21" cy="147.00" r="1.75" fill="#ED7D31"/><circle cx="579.72" cy="147.90" r="1.75" fill="#ED7D31"/><circle cx="584.24" cy="147.90" r="1.75" fill="#ED7D31"/><circle cx="588.76" cy="157.10" r="1.75" fill="#ED7D31"/><circle cx="593.27" cy="157.80" r="1.75" fill="#ED7D31"/><circle cx="597.79" cy="158.70" r="1.75" fill="#ED7D31"/><circle cx="602.31" cy="166.40" r="1.75" fill="#ED7D31"/><circle cx="606.83" cy="171.70" r="1.75" fill="#ED7D31"/><circle cx="611.34" cy="177.00" r="1.75" fill="#ED7D31"/><circle cx="615.86" cy="177.00" r="1.75" fill="#ED7D31"/><circle cx="620.38" cy="177.00" r="1.75" fill="#ED7D31"/><circle cx="624.89" cy="177.00" r="1.75" fill="#ED7D31"/><circle cx="629.41" cy="177.00" r="1.75" fill="#ED7D31"/><circle cx="633.93" cy="177.00" r="1.75" fill="#ED7D31"/><circle cx="638.44" cy="177.00" r="1.75" fill="#ED7D31"/><circle cx="642.96" cy="177.00" r="1.75" fill="#ED7D31"/><circle cx="647.48" cy="177.00" r="1.75" fill="#ED7D31"/><circle cx="652.00" cy="177.00" r="1.75" fill="#ED7D31"/><circle cx="656.51" cy="177.00" r="1.75" fill="#ED7D31"/><circle cx="661.03" cy="180.30" r="1.75" fill="#ED7D31"/><circle cx="665.55" cy="180.30" r="1.75" fill="#ED7D31"/><circle cx="670.06" cy="180.30" r="1.75" fill="#ED7D31"/><circle cx="674.58" cy="180.30" r="1.75" fill="#ED7D31"/><circle cx="679.10" cy="180.30" r="1.75" fill="#ED7D31"/>
<polyline points="376.46,22.40 380.98,23.80 385.49,25.40 390.01,27.10 394.53,28.50 399.04,30.00 403.56,30.90 408.08,32.60 412.59,34.60 417.11,36.00 421.63,37.40 426.15,40.70 430.66,42.50 435.18,44.00 439.70,46.70 444.21,47.90 448.73,49.30 453.25,51.20 457.76,52.60 462.28,53.60 466.80,55.00 471.32,56.80 475.83,58.30 480.35,61.00 484.87,64.50 489.38,67.20 493.90,68.70 498.42,70.00 502.93,72.10 507.45,75.00 511.97,78.60 516.49,82.90 521.00,87.10 525.52,91.90 530.04,93.60 534.55,97.90 539.07,105.30 543.59,109.40 548.10,115.00 552.62,122.90 557.14,129.60 561.66,147.50 566.17,149.30 570.69,161.30 575.21,161.80 579.72,163.00 584.24,172.00 588.76,172.90 593.27,174.60 597.79,176.40 602.31,177.00 606.83,178.30 611.34,178.30 615.86,178.30 620.38,178.30 624.89,178.30 629.41,180.30 633.93,180.30 638.44,180.30 642.96,180.30 647.48,180.30 652.00,180.30 656.51,180.30 661.03,180.30 665.55,180.30 670.06,180.30 674.58,180.30 679.10,180.30" fill="none" stroke="#E6BF2D" stroke-width="1.25" stroke-linejoin="round"/>
<circle cx="376.46" cy="22.40" r="1.3" fill="#E6BF2D"/><circle cx="380.98" cy="23.80" r="1.3" fill="#E6BF2D"/><circle cx="385.49" cy="25.40" r="1.3" fill="#E6BF2D"/><circle cx="390.01" cy="27.10" r="1.3" fill="#E6BF2D"/><circle cx="394.53" cy="28.50" r="1.3" fill="#E6BF2D"/><circle cx="399.04" cy="30.00" r="1.3" fill="#E6BF2D"/><circle cx="403.56" cy="30.90" r="1.3" fill="#E6BF2D"/><circle cx="408.08" cy="32.60" r="1.3" fill="#E6BF2D"/><circle cx="412.59" cy="34.60" r="1.3" fill="#E6BF2D"/><circle cx="417.11" cy="36.00" r="1.3" fill="#E6BF2D"/><circle cx="421.63" cy="37.40" r="1.3" fill="#E6BF2D"/><circle cx="426.15" cy="40.70" r="1.3" fill="#E6BF2D"/><circle cx="430.66" cy="42.50" r="1.3" fill="#E6BF2D"/><circle cx="435.18" cy="44.00" r="1.3" fill="#E6BF2D"/><circle cx="439.70" cy="46.70" r="1.3" fill="#E6BF2D"/><circle cx="444.21" cy="47.90" r="1.3" fill="#E6BF2D"/><circle cx="448.73" cy="49.30" r="1.3" fill="#E6BF2D"/><circle cx="453.25" cy="51.20" r="1.3" fill="#E6BF2D"/><circle cx="457.76" cy="52.60" r="1.3" fill="#E6BF2D"/><circle cx="462.28" cy="53.60" r="1.3" fill="#E6BF2D"/><circle cx="466.80" cy="55.00" r="1.3" fill="#E6BF2D"/><circle cx="471.32" cy="56.80" r="1.3" fill="#E6BF2D"/><circle cx="475.83" cy="58.30" r="1.3" fill="#E6BF2D"/><circle cx="480.35" cy="61.00" r="1.3" fill="#E6BF2D"/><circle cx="484.87" cy="64.50" r="1.3" fill="#E6BF2D"/><circle cx="489.38" cy="67.20" r="1.3" fill="#E6BF2D"/><circle cx="493.90" cy="68.70" r="1.3" fill="#E6BF2D"/><circle cx="498.42" cy="70.00" r="1.3" fill="#E6BF2D"/><circle cx="502.93" cy="72.10" r="1.3" fill="#E6BF2D"/><circle cx="507.45" cy="75.00" r="1.3" fill="#E6BF2D"/><circle cx="511.97" cy="78.60" r="1.3" fill="#E6BF2D"/><circle cx="516.49" cy="82.90" r="1.3" fill="#E6BF2D"/><circle cx="521.00" cy="87.10" r="1.3" fill="#E6BF2D"/><circle cx="525.52" cy="91.90" r="1.3" fill="#E6BF2D"/><circle cx="530.04" cy="93.60" r="1.3" fill="#E6BF2D"/><circle cx="534.55" cy="97.90" r="1.3" fill="#E6BF2D"/><circle cx="539.07" cy="105.30" r="1.3" fill="#E6BF2D"/><circle cx="543.59" cy="109.40" r="1.3" fill="#E6BF2D"/><circle cx="548.10" cy="115.00" r="1.3" fill="#E6BF2D"/><circle cx="552.62" cy="122.90" r="1.3" fill="#E6BF2D"/><circle cx="557.14" cy="129.60" r="1.3" fill="#E6BF2D"/><circle cx="561.66" cy="147.50" r="1.3" fill="#E6BF2D"/><circle cx="566.17" cy="149.30" r="1.3" fill="#E6BF2D"/><circle cx="570.69" cy="161.30" r="1.3" fill="#E6BF2D"/><circle cx="575.21" cy="161.80" r="1.3" fill="#E6BF2D"/><circle cx="579.72" cy="163.00" r="1.3" fill="#E6BF2D"/><circle cx="584.24" cy="172.00" r="1.3" fill="#E6BF2D"/><circle cx="588.76" cy="172.90" r="1.3" fill="#E6BF2D"/><circle cx="593.27" cy="174.60" r="1.3" fill="#E6BF2D"/><circle cx="597.79" cy="176.40" r="1.3" fill="#E6BF2D"/><circle cx="602.31" cy="177.00" r="1.3" fill="#E6BF2D"/><circle cx="606.83" cy="178.30" r="1.3" fill="#E6BF2D"/><circle cx="611.34" cy="178.30" r="1.3" fill="#E6BF2D"/><circle cx="615.86" cy="178.30" r="1.3" fill="#E6BF2D"/><circle cx="620.38" cy="178.30" r="1.3" fill="#E6BF2D"/><circle cx="624.89" cy="178.30" r="1.3" fill="#E6BF2D"/><circle cx="629.41" cy="180.30" r="1.3" fill="#E6BF2D"/><circle cx="633.93" cy="180.30" r="1.3" fill="#E6BF2D"/><circle cx="638.44" cy="180.30" r="1.3" fill="#E6BF2D"/><circle cx="642.96" cy="180.30" r="1.3" fill="#E6BF2D"/><circle cx="647.48" cy="180.30" r="1.3" fill="#E6BF2D"/><circle cx="652.00" cy="180.30" r="1.3" fill="#E6BF2D"/><circle cx="656.51" cy="180.30" r="1.3" fill="#E6BF2D"/><circle cx="661.03" cy="180.30" r="1.3" fill="#E6BF2D"/><circle cx="665.55" cy="180.30" r="1.3" fill="#E6BF2D"/><circle cx="670.06" cy="180.30" r="1.3" fill="#E6BF2D"/><circle cx="674.58" cy="180.30" r="1.3" fill="#E6BF2D"/><circle cx="679.10" cy="180.30" r="1.3" fill="#E6BF2D"/>
<polyline points="376.46,22.40 380.98,23.00 385.49,23.00 390.01,23.00 394.53,23.00 399.04,23.00 403.56,23.00 408.08,23.00 412.59,23.00 417.11,24.10 421.63,24.10 426.15,24.80 430.66,24.80 435.18,24.80 439.70,24.80 444.21,24.80 448.73,24.80 453.25,24.80 457.76,24.80 462.28,24.80 466.80,24.80 471.32,24.80 475.83,24.80 480.35,24.80 484.87,24.80 489.38,24.80 493.90,26.90 498.42,28.10 502.93,29.40 507.45,30.40 511.97,32.00 516.49,32.00 521.00,32.00 525.52,32.00 530.04,32.00 534.55,32.00 539.07,33.40 543.59,33.90 548.10,33.90 552.62,33.90 557.14,34.30 561.66,34.30 566.17,34.80 570.69,35.10 575.21,36.90 579.72,36.90 584.24,38.10 588.76,39.90 593.27,43.50 597.79,43.50 602.31,44.60 606.83,45.20 611.34,47.40 615.86,47.60 620.38,48.80 624.89,49.40 629.41,49.70 633.93,78.70 638.44,78.70 642.96,78.70 647.48,78.70 652.00,78.70 656.51,78.70 661.03,90.30 665.55,90.30 670.06,90.30 674.58,180.30 679.10,180.30" fill="none" stroke="#72CB3E" stroke-width="1.25" stroke-linejoin="round"/>
<path d="M375.06 21.00L377.86 23.80M375.06 23.80L377.86 21.00" stroke="#72CB3E" stroke-width="0.9"/><path d="M379.58 21.60L382.38 24.40M379.58 24.40L382.38 21.60" stroke="#72CB3E" stroke-width="0.9"/><path d="M384.09 21.60L386.89 24.40M384.09 24.40L386.89 21.60" stroke="#72CB3E" stroke-width="0.9"/><path d="M388.61 21.60L391.41 24.40M388.61 24.40L391.41 21.60" stroke="#72CB3E" stroke-width="0.9"/><path d="M393.13 21.60L395.93 24.40M393.13 24.40L395.93 21.60" stroke="#72CB3E" stroke-width="0.9"/><path d="M397.64 21.60L400.44 24.40M397.64 24.40L400.44 21.60" stroke="#72CB3E" stroke-width="0.9"/><path d="M402.16 21.60L404.96 24.40M402.16 24.40L404.96 21.60" stroke="#72CB3E" stroke-width="0.9"/><path d="M406.68 21.60L409.48 24.40M406.68 24.40L409.48 21.60" stroke="#72CB3E" stroke-width="0.9"/><path d="M411.19 21.60L413.99 24.40M411.19 24.40L413.99 21.60" stroke="#72CB3E" stroke-width="0.9"/><path d="M415.71 22.70L418.51 25.50M415.71 25.50L418.51 22.70" stroke="#72CB3E" stroke-width="0.9"/><path d="M420.23 22.70L423.03 25.50M420.23 25.50L423.03 22.70" stroke="#72CB3E" stroke-width="0.9"/><path d="M424.75 23.40L427.55 26.20M424.75 26.20L427.55 23.40" stroke="#72CB3E" stroke-width="0.9"/><path d="M429.26 23.40L432.06 26.20M429.26 26.20L432.06 23.40" stroke="#72CB3E" stroke-width="0.9"/><path d="M433.78 23.40L436.58 26.20M433.78 26.20L436.58 23.40" stroke="#72CB3E" stroke-width="0.9"/><path d="M438.30 23.40L441.10 26.20M438.30 26.20L441.10 23.40" stroke="#72CB3E" stroke-width="0.9"/><path d="M442.81 23.40L445.61 26.20M442.81 26.20L445.61 23.40" stroke="#72CB3E" stroke-width="0.9"/><path d="M447.33 23.40L450.13 26.20M447.33 26.20L450.13 23.40" stroke="#72CB3E" stroke-width="0.9"/><path d="M451.85 23.40L454.65 26.20M451.85 26.20L454.65 23.40" stroke="#72CB3E" stroke-width="0.9"/><path d="M456.36 23.40L459.16 26.20M456.36 26.20L459.16 23.40" stroke="#72CB3E" stroke-width="0.9"/><path d="M460.88 23.40L463.68 26.20M460.88 26.20L463.68 23.40" stroke="#72CB3E" stroke-width="0.9"/><path d="M465.40 23.40L468.20 26.20M465.40 26.20L468.20 23.40" stroke="#72CB3E" stroke-width="0.9"/><path d="M469.92 23.40L472.72 26.20M469.92 26.20L472.72 23.40" stroke="#72CB3E" stroke-width="0.9"/><path d="M474.43 23.40L477.23 26.20M474.43 26.20L477.23 23.40" stroke="#72CB3E" stroke-width="0.9"/><path d="M478.95 23.40L481.75 26.20M478.95 26.20L481.75 23.40" stroke="#72CB3E" stroke-width="0.9"/><path d="M483.47 23.40L486.27 26.20M483.47 26.20L486.27 23.40" stroke="#72CB3E" stroke-width="0.9"/><path d="M487.98 23.40L490.78 26.20M487.98 26.20L490.78 23.40" stroke="#72CB3E" stroke-width="0.9"/><path d="M492.50 25.50L495.30 28.30M492.50 28.30L495.30 25.50" stroke="#72CB3E" stroke-width="0.9"/><path d="M497.02 26.70L499.82 29.50M497.02 29.50L499.82 26.70" stroke="#72CB3E" stroke-width="0.9"/><path d="M501.53 28.00L504.33 30.80M501.53 30.80L504.33 28.00" stroke="#72CB3E" stroke-width="0.9"/><path d="M506.05 29.00L508.85 31.80M506.05 31.80L508.85 29.00" stroke="#72CB3E" stroke-width="0.9"/><path d="M510.57 30.60L513.37 33.40M510.57 33.40L513.37 30.60" stroke="#72CB3E" stroke-width="0.9"/><path d="M515.09 30.60L517.89 33.40M515.09 33.40L517.89 30.60" stroke="#72CB3E" stroke-width="0.9"/><path d="M519.60 30.60L522.40 33.40M519.60 33.40L522.40 30.60" stroke="#72CB3E" stroke-width="0.9"/><path d="M524.12 30.60L526.92 33.40M524.12 33.40L526.92 30.60" stroke="#72CB3E" stroke-width="0.9"/><path d="M528.64 30.60L531.44 33.40M528.64 33.40L531.44 30.60" stroke="#72CB3E" stroke-width="0.9"/><path d="M533.15 30.60L535.95 33.40M533.15 33.40L535.95 30.60" stroke="#72CB3E" stroke-width="0.9"/><path d="M537.67 32.00L540.47 34.80M537.67 34.80L540.47 32.00" stroke="#72CB3E" stroke-width="0.9"/><path d="M542.19 32.50L544.99 35.30M542.19 35.30L544.99 32.50" stroke="#72CB3E" stroke-width="0.9"/><path d="M546.70 32.50L549.50 35.30M546.70 35.30L549.50 32.50" stroke="#72CB3E" stroke-width="0.9"/><path d="M551.22 32.50L554.02 35.30M551.22 35.30L554.02 32.50" stroke="#72CB3E" stroke-width="0.9"/><path d="M555.74 32.90L558.54 35.70M555.74 35.70L558.54 32.90" stroke="#72CB3E" stroke-width="0.9"/><path d="M560.26 32.90L563.06 35.70M560.26 35.70L563.06 32.90" stroke="#72CB3E" stroke-width="0.9"/><path d="M564.77 33.40L567.57 36.20M564.77 36.20L567.57 33.40" stroke="#72CB3E" stroke-width="0.9"/><path d="M569.29 33.70L572.09 36.50M569.29 36.50L572.09 33.70" stroke="#72CB3E" stroke-width="0.9"/><path d="M573.81 35.50L576.61 38.30M573.81 38.30L576.61 35.50" stroke="#72CB3E" stroke-width="0.9"/><path d="M578.32 35.50L581.12 38.30M578.32 38.30L581.12 35.50" stroke="#72CB3E" stroke-width="0.9"/><path d="M582.84 36.70L585.64 39.50M582.84 39.50L585.64 36.70" stroke="#72CB3E" stroke-width="0.9"/><path d="M587.36 38.50L590.16 41.30M587.36 41.30L590.16 38.50" stroke="#72CB3E" stroke-width="0.9"/><path d="M591.87 42.10L594.67 44.90M591.87 44.90L594.67 42.10" stroke="#72CB3E" stroke-width="0.9"/><path d="M596.39 42.10L599.19 44.90M596.39 44.90L599.19 42.10" stroke="#72CB3E" stroke-width="0.9"/><path d="M600.91 43.20L603.71 46.00M600.91 46.00L603.71 43.20" stroke="#72CB3E" stroke-width="0.9"/><path d="M605.43 43.80L608.23 46.60M605.43 46.60L608.23 43.80" stroke="#72CB3E" stroke-width="0.9"/><path d="M609.94 46.00L612.74 48.80M609.94 48.80L612.74 46.00" stroke="#72CB3E" stroke-width="0.9"/><path d="M614.46 46.20L617.26 49.00M614.46 49.00L617.26 46.20" stroke="#72CB3E" stroke-width="0.9"/><path d="M618.98 47.40L621.78 50.20M618.98 50.20L621.78 47.40" stroke="#72CB3E" stroke-width="0.9"/><path d="M623.49 48.00L626.29 50.80M623.49 50.80L626.29 48.00" stroke="#72CB3E" stroke-width="0.9"/><path d="M628.01 48.30L630.81 51.10M628.01 51.10L630.81 48.30" stroke="#72CB3E" stroke-width="0.9"/><path d="M632.53 77.30L635.33 80.10M632.53 80.10L635.33 77.30" stroke="#72CB3E" stroke-width="0.9"/><path d="M637.04 77.30L639.84 80.10M637.04 80.10L639.84 77.30" stroke="#72CB3E" stroke-width="0.9"/><path d="M641.56 77.30L644.36 80.10M641.56 80.10L644.36 77.30" stroke="#72CB3E" stroke-width="0.9"/><path d="M646.08 77.30L648.88 80.10M646.08 80.10L648.88 77.30" stroke="#72CB3E" stroke-width="0.9"/><path d="M650.60 77.30L653.40 80.10M650.60 80.10L653.40 77.30" stroke="#72CB3E" stroke-width="0.9"/><path d="M655.11 77.30L657.91 80.10M655.11 80.10L657.91 77.30" stroke="#72CB3E" stroke-width="0.9"/><path d="M659.63 88.90L662.43 91.70M659.63 91.70L662.43 88.90" stroke="#72CB3E" stroke-width="0.9"/><path d="M664.15 88.90L666.95 91.70M664.15 91.70L666.95 88.90" stroke="#72CB3E" stroke-width="0.9"/><path d="M668.66 88.90L671.46 91.70M668.66 91.70L671.46 88.90" stroke="#72CB3E" stroke-width="0.9"/><path d="M673.18 178.90L675.98 181.70M673.18 181.70L675.98 178.90" stroke="#72CB3E" stroke-width="0.9"/><path d="M677.70 178.90L680.50 181.70M677.70 181.70L680.50 178.90" stroke="#72CB3E" stroke-width="0.9"/>
<path d="M371.00 180.30H374.20M371.00 158.81H374.20M371.00 137.32H374.20M371.00 115.83H374.20M371.00 94.34H374.20M371.00 72.85H374.20M371.00 51.36H374.20M371.00 29.87H374.20M371.00 8.38H374.20M374.20 180.30V182.90M396.78 180.30V182.90M419.37 180.30V182.90M441.95 180.30V182.90M464.54 180.30V182.90M487.12 180.30V182.90M509.71 180.30V182.90M532.29 180.30V182.90M554.88 180.30V182.90M577.47 180.30V182.90M600.05 180.30V182.90M622.63 180.30V182.90M645.22 180.30V182.90M667.81 180.30V182.90" stroke="#1e1e1e" stroke-width="1.15"/>
<text x="366.60" y="183.30" text-anchor="end" class="tk">0</text>
<text x="366.60" y="161.81" text-anchor="end" class="tk">0.1</text>
<text x="366.60" y="140.32" text-anchor="end" class="tk">0.2</text>
<text x="366.60" y="118.83" text-anchor="end" class="tk">0.3</text>
<text x="366.60" y="97.34" text-anchor="end" class="tk">0.4</text>
<text x="366.60" y="75.85" text-anchor="end" class="tk">0.5</text>
<text x="366.60" y="54.36" text-anchor="end" class="tk">0.6</text>
<text x="366.60" y="32.87" text-anchor="end" class="tk">0.7</text>
<text x="366.60" y="11.38" text-anchor="end" class="tk">0.8</text>
<text x="376.46" y="194.40" text-anchor="middle" class="tk">1</text>
<text x="399.04" y="194.40" text-anchor="middle" class="tk">6</text>
<text x="421.63" y="194.40" text-anchor="middle" class="tk">11</text>
<text x="444.21" y="194.40" text-anchor="middle" class="tk">16</text>
<text x="466.80" y="194.40" text-anchor="middle" class="tk">21</text>
<text x="489.38" y="194.40" text-anchor="middle" class="tk">26</text>
<text x="511.97" y="194.40" text-anchor="middle" class="tk">31</text>
<text x="534.55" y="194.40" text-anchor="middle" class="tk">36</text>
<text x="557.14" y="194.40" text-anchor="middle" class="tk">41</text>
<text x="579.72" y="194.40" text-anchor="middle" class="tk">46</text>
<text x="602.31" y="194.40" text-anchor="middle" class="tk">51</text>
<text x="624.89" y="194.40" text-anchor="middle" class="tk">56</text>
<text x="647.48" y="194.40" text-anchor="middle" class="tk">61</text>
<text x="670.06" y="194.40" text-anchor="middle" class="tk">66</text>
<text x="526.00" y="204.30" text-anchor="middle" class="ti">Number of Attacked Nodes</text>
<text transform="translate(354.50,93.40) rotate(-90)" text-anchor="middle" class="ti">Global Efficiency</text>
<text x="392.30" y="12.60" class="pl">(b)</text>
<path d="M625.10 8.50H639.80" stroke="#4472C4" stroke-width="1.25"/>
<path d="M632.45 5.90L635.05 10.45L629.85 10.45Z" fill="#4472C4"/>
<text x="641.50" y="11.90" class="ti">Degree</text>
<path d="M625.10 20.60H639.80" stroke="#ED7D31" stroke-width="1.25"/>
<circle cx="632.45" cy="20.60" r="1.75" fill="#ED7D31"/>
<text x="641.50" y="24.00" class="ti">Indegree</text>
<path d="M625.10 32.80H639.80" stroke="#E6BF2D" stroke-width="1.25"/>
<circle cx="632.45" cy="32.80" r="1.3" fill="#E6BF2D"/>
<text x="641.50" y="36.20" class="ti">Outdegree</text>
<path d="M625.10 45.20H639.80" stroke="#72CB3E" stroke-width="1.25"/>
<path d="M631.05 43.80L633.85 46.60M631.05 46.60L633.85 43.80" stroke="#72CB3E" stroke-width="0.9"/>
<text x="641.50" y="48.60" class="ti">Rand</text>
<path d="M29.50 222.50V394.70H336.52" fill="none" stroke="#1e1e1e" stroke-width="1.2"/>
<polyline points="31.76,253.10 36.27,258.50 40.79,260.80 45.30,265.00 49.82,269.20 54.33,272.70 58.85,282.30 63.36,285.80 67.88,290.00 72.39,295.80 76.91,298.00 81.42,300.80 85.94,304.20 90.45,306.30 94.97,310.00 99.48,313.70 104.00,316.70 108.51,320.00 113.03,323.70 117.54,328.00 122.06,331.70 126.57,335.00 131.09,345.00 135.60,347.90 140.12,352.90 144.63,355.70 149.15,360.00 153.66,369.00 158.18,371.50 162.69,372.10 167.21,372.10 171.72,374.70 176.24,380.00 180.75,381.30 185.27,382.20 189.78,382.60 194.30,383.00 198.81,384.50 203.33,384.50 207.84,385.70 212.36,386.30 216.87,386.30 221.39,386.70 225.90,388.10 230.42,389.00 234.93,389.00 239.45,389.00 243.96,389.00 248.48,389.00 252.99,389.00 257.51,389.20 262.02,390.80 266.54,390.80 271.05,390.80 275.57,390.80 280.08,390.50 284.60,390.50 289.11,390.50 293.63,394.70 298.14,394.70 302.66,394.70 307.17,394.70 311.69,394.70 316.20,394.70 320.72,394.70 325.23,394.70 329.75,394.70 334.26,394.70" fill="none" stroke="#4472C4" stroke-width="1.25" stroke-linejoin="round"/>
<path d="M31.76 250.50L34.36 255.05L29.16 255.05Z" fill="#4472C4"/><path d="M36.27 255.90L38.87 260.45L33.67 260.45Z" fill="#4472C4"/><path d="M40.79 258.20L43.39 262.75L38.19 262.75Z" fill="#4472C4"/><path d="M45.30 262.40L47.90 266.95L42.70 266.95Z" fill="#4472C4"/><path d="M49.82 266.60L52.42 271.15L47.22 271.15Z" fill="#4472C4"/><path d="M54.33 270.10L56.93 274.65L51.73 274.65Z" fill="#4472C4"/><path d="M58.85 279.70L61.45 284.25L56.25 284.25Z" fill="#4472C4"/><path d="M63.36 283.20L65.96 287.75L60.76 287.75Z" fill="#4472C4"/><path d="M67.88 287.40L70.48 291.95L65.28 291.95Z" fill="#4472C4"/><path d="M72.39 293.20L74.99 297.75L69.79 297.75Z" fill="#4472C4"/><path d="M76.91 295.40L79.51 299.95L74.31 299.95Z" fill="#4472C4"/><path d="M81.42 298.20L84.02 302.75L78.82 302.75Z" fill="#4472C4"/><path d="M85.94 301.60L88.54 306.15L83.34 306.15Z" fill="#4472C4"/><path d="M90.45 303.70L93.05 308.25L87.85 308.25Z" fill="#4472C4"/><path d="M94.97 307.40L97.57 311.95L92.37 311.95Z" fill="#4472C4"/><path d="M99.48 311.10L102.08 315.65L96.88 315.65Z" fill="#4472C4"/><path d="M104.00 314.10L106.60 318.65L101.40 318.65Z" fill="#4472C4"/><path d="M108.51 317.40L111.11 321.95L105.91 321.95Z" fill="#4472C4"/><path d="M113.03 321.10L115.63 325.65L110.43 325.65Z" fill="#4472C4"/><path d="M117.54 325.40L120.14 329.95L114.94 329.95Z" fill="#4472C4"/><path d="M122.06 329.10L124.66 333.65L119.46 333.65Z" fill="#4472C4"/><path d="M126.57 332.40L129.17 336.95L123.97 336.95Z" fill="#4472C4"/><path d="M131.09 342.40L133.69 346.95L128.49 346.95Z" fill="#4472C4"/><path d="M135.60 345.30L138.20 349.85L133.00 349.85Z" fill="#4472C4"/><path d="M140.12 350.30L142.72 354.85L137.52 354.85Z" fill="#4472C4"/><path d="M144.63 353.10L147.23 357.65L142.03 357.65Z" fill="#4472C4"/><path d="M149.15 357.40L151.75 361.95L146.55 361.95Z" fill="#4472C4"/><path d="M153.66 366.40L156.26 370.95L151.06 370.95Z" fill="#4472C4"/><path d="M158.18 368.90L160.78 373.45L155.58 373.45Z" fill="#4472C4"/><path d="M162.69 369.50L165.29 374.05L160.09 374.05Z" fill="#4472C4"/><path d="M167.21 369.50L169.81 374.05L164.61 374.05Z" fill="#4472C4"/><path d="M171.72 372.10L174.32 376.65L169.12 376.65Z" fill="#4472C4"/><path d="M176.24 377.40L178.84 381.95L173.64 381.95Z" fill="#4472C4"/><path d="M180.75 378.70L183.35 383.25L178.15 383.25Z" fill="#4472C4"/><path d="M185.27 379.60L187.87 384.15L182.67 384.15Z" fill="#4472C4"/><path d="M189.78 380.00L192.38 384.55L187.18 384.55Z" fill="#4472C4"/><path d="M194.30 380.40L196.90 384.95L191.70 384.95Z" fill="#4472C4"/><path d="M198.81 381.90L201.41 386.45L196.21 386.45Z" fill="#4472C4"/><path d="M203.33 381.90L205.93 386.45L200.73 386.45Z" fill="#4472C4"/><path d="M207.84 383.10L210.44 387.65L205.24 387.65Z" fill="#4472C4"/><path d="M212.36 383.70L214.96 388.25L209.76 388.25Z" fill="#4472C4"/><path d="M216.87 383.70L219.47 388.25L214.27 388.25Z" fill="#4472C4"/><path d="M221.39 384.10L223.99 388.65L218.79 388.65Z" fill="#4472C4"/><path d="M225.90 385.50L228.50 390.05L223.30 390.05Z" fill="#4472C4"/><path d="M230.42 386.40L233.02 390.95L227.82 390.95Z" fill="#4472C4"/><path d="M234.93 386.40L237.53 390.95L232.33 390.95Z" fill="#4472C4"/><path d="M239.45 386.40L242.05 390.95L236.85 390.95Z" fill="#4472C4"/><path d="M243.96 386.40L246.56 390.95L241.36 390.95Z" fill="#4472C4"/><path d="M248.48 386.40L251.08 390.95L245.88 390.95Z" fill="#4472C4"/><path d="M252.99 386.40L255.59 390.95L250.39 390.95Z" fill="#4472C4"/><path d="M257.51 386.60L260.11 391.15L254.91 391.15Z" fill="#4472C4"/><path d="M262.02 388.20L264.62 392.75L259.42 392.75Z" fill="#4472C4"/><path d="M266.54 388.20L269.14 392.75L263.94 392.75Z" fill="#4472C4"/><path d="M271.05 388.20L273.65 392.75L268.45 392.75Z" fill="#4472C4"/><path d="M275.57 388.20L278.17 392.75L272.97 392.75Z" fill="#4472C4"/><path d="M280.08 387.90L282.68 392.45L277.48 392.45Z" fill="#4472C4"/><path d="M284.60 387.90L287.20 392.45L282.00 392.45Z" fill="#4472C4"/><path d="M289.11 387.90L291.71 392.45L286.51 392.45Z" fill="#4472C4"/><path d="M293.63 392.10L296.23 396.65L291.03 396.65Z" fill="#4472C4"/><path d="M298.14 392.10L300.74 396.65L295.54 396.65Z" fill="#4472C4"/><path d="M302.66 392.10L305.26 396.65L300.06 396.65Z" fill="#4472C4"/><path d="M307.17 392.10L309.77 396.65L304.57 396.65Z" fill="#4472C4"/><path d="M311.69 392.10L314.29 396.65L309.09 396.65Z" fill="#4472C4"/><path d="M316.20 392.10L318.80 396.65L313.60 396.65Z" fill="#4472C4"/><path d="M320.72 392.10L323.32 396.65L318.12 396.65Z" fill="#4472C4"/><path d="M325.23 392.10L327.83 396.65L322.63 396.65Z" fill="#4472C4"/><path d="M329.75 392.10L332.35 396.65L327.15 396.65Z" fill="#4472C4"/><path d="M334.26 392.10L336.86 396.65L331.66 396.65Z" fill="#4472C4"/>
<polyline points="31.76,251.90 36.27,255.20 40.79,258.10 45.30,265.20 49.82,266.00 54.33,269.20 58.85,273.90 63.36,274.30 67.88,274.30 72.39,274.50 76.91,281.70 81.42,290.00 85.94,295.00 90.45,295.80 94.97,298.30 99.48,303.30 104.00,305.30 108.51,308.00 113.03,308.70 117.54,310.80 122.06,312.00 126.57,316.40 131.09,322.00 135.60,323.00 140.12,328.30 144.63,333.10 149.15,340.70 153.66,341.50 158.18,342.70 162.69,346.20 167.21,359.10 171.72,360.00 176.24,362.20 180.75,362.50 185.27,368.40 189.78,378.30 194.30,378.30 198.81,378.60 203.33,378.50 207.84,379.20 212.36,379.20 216.87,379.20 221.39,380.40 225.90,382.10 230.42,383.10 234.93,385.10 239.45,387.10 243.96,388.10 248.48,388.70 252.99,389.00 257.51,389.30 262.02,389.70 266.54,389.70 271.05,389.90 275.57,392.30 280.08,393.30 284.60,394.20 289.11,394.20 293.63,394.70 298.14,394.70 302.66,394.70 307.17,394.70 311.69,394.70 316.20,394.70 320.72,394.70 325.23,394.70 329.75,394.70 334.26,394.70" fill="none" stroke="#ED7D31" stroke-width="1.25" stroke-linejoin="round"/>
<circle cx="31.76" cy="251.90" r="1.75" fill="#ED7D31"/><circle cx="36.27" cy="255.20" r="1.75" fill="#ED7D31"/><circle cx="40.79" cy="258.10" r="1.75" fill="#ED7D31"/><circle cx="45.30" cy="265.20" r="1.75" fill="#ED7D31"/><circle cx="49.82" cy="266.00" r="1.75" fill="#ED7D31"/><circle cx="54.33" cy="269.20" r="1.75" fill="#ED7D31"/><circle cx="58.85" cy="273.90" r="1.75" fill="#ED7D31"/><circle cx="63.36" cy="274.30" r="1.75" fill="#ED7D31"/><circle cx="67.88" cy="274.30" r="1.75" fill="#ED7D31"/><circle cx="72.39" cy="274.50" r="1.75" fill="#ED7D31"/><circle cx="76.91" cy="281.70" r="1.75" fill="#ED7D31"/><circle cx="81.42" cy="290.00" r="1.75" fill="#ED7D31"/><circle cx="85.94" cy="295.00" r="1.75" fill="#ED7D31"/><circle cx="90.45" cy="295.80" r="1.75" fill="#ED7D31"/><circle cx="94.97" cy="298.30" r="1.75" fill="#ED7D31"/><circle cx="99.48" cy="303.30" r="1.75" fill="#ED7D31"/><circle cx="104.00" cy="305.30" r="1.75" fill="#ED7D31"/><circle cx="108.51" cy="308.00" r="1.75" fill="#ED7D31"/><circle cx="113.03" cy="308.70" r="1.75" fill="#ED7D31"/><circle cx="117.54" cy="310.80" r="1.75" fill="#ED7D31"/><circle cx="122.06" cy="312.00" r="1.75" fill="#ED7D31"/><circle cx="126.57" cy="316.40" r="1.75" fill="#ED7D31"/><circle cx="131.09" cy="322.00" r="1.75" fill="#ED7D31"/><circle cx="135.60" cy="323.00" r="1.75" fill="#ED7D31"/><circle cx="140.12" cy="328.30" r="1.75" fill="#ED7D31"/><circle cx="144.63" cy="333.10" r="1.75" fill="#ED7D31"/><circle cx="149.15" cy="340.70" r="1.75" fill="#ED7D31"/><circle cx="153.66" cy="341.50" r="1.75" fill="#ED7D31"/><circle cx="158.18" cy="342.70" r="1.75" fill="#ED7D31"/><circle cx="162.69" cy="346.20" r="1.75" fill="#ED7D31"/><circle cx="167.21" cy="359.10" r="1.75" fill="#ED7D31"/><circle cx="171.72" cy="360.00" r="1.75" fill="#ED7D31"/><circle cx="176.24" cy="362.20" r="1.75" fill="#ED7D31"/><circle cx="180.75" cy="362.50" r="1.75" fill="#ED7D31"/><circle cx="185.27" cy="368.40" r="1.75" fill="#ED7D31"/><circle cx="189.78" cy="378.30" r="1.75" fill="#ED7D31"/><circle cx="194.30" cy="378.30" r="1.75" fill="#ED7D31"/><circle cx="198.81" cy="378.60" r="1.75" fill="#ED7D31"/><circle cx="203.33" cy="378.50" r="1.75" fill="#ED7D31"/><circle cx="207.84" cy="379.20" r="1.75" fill="#ED7D31"/><circle cx="212.36" cy="379.20" r="1.75" fill="#ED7D31"/><circle cx="216.87" cy="379.20" r="1.75" fill="#ED7D31"/><circle cx="221.39" cy="380.40" r="1.75" fill="#ED7D31"/><circle cx="225.90" cy="382.10" r="1.75" fill="#ED7D31"/><circle cx="230.42" cy="383.10" r="1.75" fill="#ED7D31"/><circle cx="234.93" cy="385.10" r="1.75" fill="#ED7D31"/><circle cx="239.45" cy="387.10" r="1.75" fill="#ED7D31"/><circle cx="243.96" cy="388.10" r="1.75" fill="#ED7D31"/><circle cx="248.48" cy="388.70" r="1.75" fill="#ED7D31"/><circle cx="252.99" cy="389.00" r="1.75" fill="#ED7D31"/><circle cx="257.51" cy="389.30" r="1.75" fill="#ED7D31"/><circle cx="262.02" cy="389.70" r="1.75" fill="#ED7D31"/><circle cx="266.54" cy="389.70" r="1.75" fill="#ED7D31"/><circle cx="271.05" cy="389.90" r="1.75" fill="#ED7D31"/><circle cx="275.57" cy="392.30" r="1.75" fill="#ED7D31"/><circle cx="280.08" cy="393.30" r="1.75" fill="#ED7D31"/><circle cx="284.60" cy="394.20" r="1.75" fill="#ED7D31"/><circle cx="289.11" cy="394.20" r="1.75" fill="#ED7D31"/><circle cx="293.63" cy="394.70" r="1.75" fill="#ED7D31"/><circle cx="298.14" cy="394.70" r="1.75" fill="#ED7D31"/><circle cx="302.66" cy="394.70" r="1.75" fill="#ED7D31"/><circle cx="307.17" cy="394.70" r="1.75" fill="#ED7D31"/><circle cx="311.69" cy="394.70" r="1.75" fill="#ED7D31"/><circle cx="316.20" cy="394.70" r="1.75" fill="#ED7D31"/><circle cx="320.72" cy="394.70" r="1.75" fill="#ED7D31"/><circle cx="325.23" cy="394.70" r="1.75" fill="#ED7D31"/><circle cx="329.75" cy="394.70" r="1.75" fill="#ED7D31"/><circle cx="334.26" cy="394.70" r="1.75" fill="#ED7D31"/>
<polyline points="31.76,251.90 36.27,256.70 40.79,260.20 45.30,264.40 49.82,268.00 54.33,272.10 58.85,275.50 63.36,280.50 67.88,283.00 72.39,285.40 76.91,287.50 81.42,288.50 85.94,290.00 90.45,292.50 94.97,294.20 99.48,296.30 104.00,313.70 108.51,316.70 113.03,320.00 117.54,323.00 122.06,327.00 126.57,331.10 131.09,334.00 135.60,336.80 140.12,336.80 144.63,338.60 149.15,339.30 153.66,344.50 158.18,346.80 162.69,348.10 167.21,358.10 171.72,362.20 176.24,362.90 180.75,363.60 185.27,370.00 189.78,372.10 194.30,372.10 198.81,378.00 203.33,378.00 207.84,381.20 212.36,385.50 216.87,386.90 221.39,387.90 225.90,388.30 230.42,388.70 234.93,388.70 239.45,388.70 243.96,388.70 248.48,389.00 252.99,389.30 257.51,389.60 262.02,390.50 266.54,390.50 271.05,390.50 275.57,390.50 280.08,393.80 284.60,394.20 289.11,394.70 293.63,394.70 298.14,394.70 302.66,394.70 307.17,394.70 311.69,394.70 316.20,394.70 320.72,394.70 325.23,394.70 329.75,394.70 334.26,394.70" fill="none" stroke="#E6BF2D" stroke-width="1.25" stroke-linejoin="round"/>
<circle cx="31.76" cy="251.90" r="1.3" fill="#E6BF2D"/><circle cx="36.27" cy="256.70" r="1.3" fill="#E6BF2D"/><circle cx="40.79" cy="260.20" r="1.3" fill="#E6BF2D"/><circle cx="45.30" cy="264.40" r="1.3" fill="#E6BF2D"/><circle cx="49.82" cy="268.00" r="1.3" fill="#E6BF2D"/><circle cx="54.33" cy="272.10" r="1.3" fill="#E6BF2D"/><circle cx="58.85" cy="275.50" r="1.3" fill="#E6BF2D"/><circle cx="63.36" cy="280.50" r="1.3" fill="#E6BF2D"/><circle cx="67.88" cy="283.00" r="1.3" fill="#E6BF2D"/><circle cx="72.39" cy="285.40" r="1.3" fill="#E6BF2D"/><circle cx="76.91" cy="287.50" r="1.3" fill="#E6BF2D"/><circle cx="81.42" cy="288.50" r="1.3" fill="#E6BF2D"/><circle cx="85.94" cy="290.00" r="1.3" fill="#E6BF2D"/><circle cx="90.45" cy="292.50" r="1.3" fill="#E6BF2D"/><circle cx="94.97" cy="294.20" r="1.3" fill="#E6BF2D"/><circle cx="99.48" cy="296.30" r="1.3" fill="#E6BF2D"/><circle cx="104.00" cy="313.70" r="1.3" fill="#E6BF2D"/><circle cx="108.51" cy="316.70" r="1.3" fill="#E6BF2D"/><circle cx="113.03" cy="320.00" r="1.3" fill="#E6BF2D"/><circle cx="117.54" cy="323.00" r="1.3" fill="#E6BF2D"/><circle cx="122.06" cy="327.00" r="1.3" fill="#E6BF2D"/><circle cx="126.57" cy="331.10" r="1.3" fill="#E6BF2D"/><circle cx="131.09" cy="334.00" r="1.3" fill="#E6BF2D"/><circle cx="135.60" cy="336.80" r="1.3" fill="#E6BF2D"/><circle cx="140.12" cy="336.80" r="1.3" fill="#E6BF2D"/><circle cx="144.63" cy="338.60" r="1.3" fill="#E6BF2D"/><circle cx="149.15" cy="339.30" r="1.3" fill="#E6BF2D"/><circle cx="153.66" cy="344.50" r="1.3" fill="#E6BF2D"/><circle cx="158.18" cy="346.80" r="1.3" fill="#E6BF2D"/><circle cx="162.69" cy="348.10" r="1.3" fill="#E6BF2D"/><circle cx="167.21" cy="358.10" r="1.3" fill="#E6BF2D"/><circle cx="171.72" cy="362.20" r="1.3" fill="#E6BF2D"/><circle cx="176.24" cy="362.90" r="1.3" fill="#E6BF2D"/><circle cx="180.75" cy="363.60" r="1.3" fill="#E6BF2D"/><circle cx="185.27" cy="370.00" r="1.3" fill="#E6BF2D"/><circle cx="189.78" cy="372.10" r="1.3" fill="#E6BF2D"/><circle cx="194.30" cy="372.10" r="1.3" fill="#E6BF2D"/><circle cx="198.81" cy="378.00" r="1.3" fill="#E6BF2D"/><circle cx="203.33" cy="378.00" r="1.3" fill="#E6BF2D"/><circle cx="207.84" cy="381.20" r="1.3" fill="#E6BF2D"/><circle cx="212.36" cy="385.50" r="1.3" fill="#E6BF2D"/><circle cx="216.87" cy="386.90" r="1.3" fill="#E6BF2D"/><circle cx="221.39" cy="387.90" r="1.3" fill="#E6BF2D"/><circle cx="225.90" cy="388.30" r="1.3" fill="#E6BF2D"/><circle cx="230.42" cy="388.70" r="1.3" fill="#E6BF2D"/><circle cx="234.93" cy="388.70" r="1.3" fill="#E6BF2D"/><circle cx="239.45" cy="388.70" r="1.3" fill="#E6BF2D"/><circle cx="243.96" cy="388.70" r="1.3" fill="#E6BF2D"/><circle cx="248.48" cy="389.00" r="1.3" fill="#E6BF2D"/><circle cx="252.99" cy="389.30" r="1.3" fill="#E6BF2D"/><circle cx="257.51" cy="389.60" r="1.3" fill="#E6BF2D"/><circle cx="262.02" cy="390.50" r="1.3" fill="#E6BF2D"/><circle cx="266.54" cy="390.50" r="1.3" fill="#E6BF2D"/><circle cx="271.05" cy="390.50" r="1.3" fill="#E6BF2D"/><circle cx="275.57" cy="390.50" r="1.3" fill="#E6BF2D"/><circle cx="280.08" cy="393.80" r="1.3" fill="#E6BF2D"/><circle cx="284.60" cy="394.20" r="1.3" fill="#E6BF2D"/><circle cx="289.11" cy="394.70" r="1.3" fill="#E6BF2D"/><circle cx="293.63" cy="394.70" r="1.3" fill="#E6BF2D"/><circle cx="298.14" cy="394.70" r="1.3" fill="#E6BF2D"/><circle cx="302.66" cy="394.70" r="1.3" fill="#E6BF2D"/><circle cx="307.17" cy="394.70" r="1.3" fill="#E6BF2D"/><circle cx="311.69" cy="394.70" r="1.3" fill="#E6BF2D"/><circle cx="316.20" cy="394.70" r="1.3" fill="#E6BF2D"/><circle cx="320.72" cy="394.70" r="1.3" fill="#E6BF2D"/><circle cx="325.23" cy="394.70" r="1.3" fill="#E6BF2D"/><circle cx="329.75" cy="394.70" r="1.3" fill="#E6BF2D"/><circle cx="334.26" cy="394.70" r="1.3" fill="#E6BF2D"/>
<polyline points="31.76,251.90 36.27,253.70 40.79,254.50 45.30,254.80 49.82,254.90 54.33,258.40 58.85,258.40 63.36,258.40 67.88,258.40 72.39,258.40 76.91,258.40 81.42,258.40 85.94,258.40 90.45,258.40 94.97,258.40 99.48,258.40 104.00,258.40 108.51,258.40 113.03,258.40 117.54,258.80 122.06,259.40 126.57,260.20 131.09,260.90 135.60,260.90 140.12,260.90 144.63,260.90 149.15,260.90 153.66,260.90 158.18,260.90 162.69,260.90 167.21,260.90 171.72,264.00 176.24,264.00 180.75,264.00 185.27,264.00 189.78,264.00 194.30,264.00 198.81,264.00 203.33,264.00 207.84,266.60 212.36,267.70 216.87,267.70 221.39,267.70 225.90,267.70 230.42,279.10 234.93,283.80 239.45,286.30 243.96,288.10 248.48,288.90 252.99,295.20 257.51,297.70 262.02,297.70 266.54,297.70 271.05,297.70 275.57,297.70 280.08,297.70 284.60,297.70 289.11,297.70 293.63,297.70 298.14,297.70 302.66,297.70 307.17,331.00 311.69,358.30 316.20,358.30 320.72,358.30 325.23,358.30 329.75,394.70 334.26,394.70" fill="none" stroke="#72CB3E" stroke-width="1.25" stroke-linejoin="round"/>
<path d="M30.36 250.50L33.16 253.30M30.36 253.30L33.16 250.50" stroke="#72CB3E" stroke-width="0.9"/><path d="M34.87 252.30L37.67 255.10M34.87 255.10L37.67 252.30" stroke="#72CB3E" stroke-width="0.9"/><path d="M39.39 253.10L42.19 255.90M39.39 255.90L42.19 253.10" stroke="#72CB3E" stroke-width="0.9"/><path d="M43.90 253.40L46.70 256.20M43.90 256.20L46.70 253.40" stroke="#72CB3E" stroke-width="0.9"/><path d="M48.42 253.50L51.22 256.30M48.42 256.30L51.22 253.50" stroke="#72CB3E" stroke-width="0.9"/><path d="M52.93 257.00L55.73 259.80M52.93 259.80L55.73 257.00" stroke="#72CB3E" stroke-width="0.9"/><path d="M57.45 257.00L60.25 259.80M57.45 259.80L60.25 257.00" stroke="#72CB3E" stroke-width="0.9"/><path d="M61.96 257.00L64.76 259.80M61.96 259.80L64.76 257.00" stroke="#72CB3E" stroke-width="0.9"/><path d="M66.48 257.00L69.28 259.80M66.48 259.80L69.28 257.00" stroke="#72CB3E" stroke-width="0.9"/><path d="M70.99 257.00L73.79 259.80M70.99 259.80L73.79 257.00" stroke="#72CB3E" stroke-width="0.9"/><path d="M75.51 257.00L78.31 259.80M75.51 259.80L78.31 257.00" stroke="#72CB3E" stroke-width="0.9"/><path d="M80.02 257.00L82.82 259.80M80.02 259.80L82.82 257.00" stroke="#72CB3E" stroke-width="0.9"/><path d="M84.54 257.00L87.34 259.80M84.54 259.80L87.34 257.00" stroke="#72CB3E" stroke-width="0.9"/><path d="M89.05 257.00L91.85 259.80M89.05 259.80L91.85 257.00" stroke="#72CB3E" stroke-width="0.9"/><path d="M93.57 257.00L96.37 259.80M93.57 259.80L96.37 257.00" stroke="#72CB3E" stroke-width="0.9"/><path d="M98.08 257.00L100.88 259.80M98.08 259.80L100.88 257.00" stroke="#72CB3E" stroke-width="0.9"/><path d="M102.60 257.00L105.40 259.80M102.60 259.80L105.40 257.00" stroke="#72CB3E" stroke-width="0.9"/><path d="M107.11 257.00L109.91 259.80M107.11 259.80L109.91 257.00" stroke="#72CB3E" stroke-width="0.9"/><path d="M111.63 257.00L114.43 259.80M111.63 259.80L114.43 257.00" stroke="#72CB3E" stroke-width="0.9"/><path d="M116.14 257.40L118.94 260.20M116.14 260.20L118.94 257.40" stroke="#72CB3E" stroke-width="0.9"/><path d="M120.66 258.00L123.46 260.80M120.66 260.80L123.46 258.00" stroke="#72CB3E" stroke-width="0.9"/><path d="M125.17 258.80L127.97 261.60M125.17 261.60L127.97 258.80" stroke="#72CB3E" stroke-width="0.9"/><path d="M129.69 259.50L132.49 262.30M129.69 262.30L132.49 259.50" stroke="#72CB3E" stroke-width="0.9"/><path d="M134.20 259.50L137.00 262.30M134.20 262.30L137.00 259.50" stroke="#72CB3E" stroke-width="0.9"/><path d="M138.72 259.50L141.52 262.30M138.72 262.30L141.52 259.50" stroke="#72CB3E" stroke-width="0.9"/><path d="M143.23 259.50L146.03 262.30M143.23 262.30L146.03 259.50" stroke="#72CB3E" stroke-width="0.9"/><path d="M147.75 259.50L150.55 262.30M147.75 262.30L150.55 259.50" stroke="#72CB3E" stroke-width="0.9"/><path d="M152.26 259.50L155.06 262.30M152.26 262.30L155.06 259.50" stroke="#72CB3E" stroke-width="0.9"/><path d="M156.78 259.50L159.58 262.30M156.78 262.30L159.58 259.50" stroke="#72CB3E" stroke-width="0.9"/><path d="M161.29 259.50L164.09 262.30M161.29 262.30L164.09 259.50" stroke="#72CB3E" stroke-width="0.9"/><path d="M165.81 259.50L168.61 262.30M165.81 262.30L168.61 259.50" stroke="#72CB3E" stroke-width="0.9"/><path d="M170.32 262.60L173.12 265.40M170.32 265.40L173.12 262.60" stroke="#72CB3E" stroke-width="0.9"/><path d="M174.84 262.60L177.64 265.40M174.84 265.40L177.64 262.60" stroke="#72CB3E" stroke-width="0.9"/><path d="M179.35 262.60L182.15 265.40M179.35 265.40L182.15 262.60" stroke="#72CB3E" stroke-width="0.9"/><path d="M183.87 262.60L186.67 265.40M183.87 265.40L186.67 262.60" stroke="#72CB3E" stroke-width="0.9"/><path d="M188.38 262.60L191.18 265.40M188.38 265.40L191.18 262.60" stroke="#72CB3E" stroke-width="0.9"/><path d="M192.90 262.60L195.70 265.40M192.90 265.40L195.70 262.60" stroke="#72CB3E" stroke-width="0.9"/><path d="M197.41 262.60L200.21 265.40M197.41 265.40L200.21 262.60" stroke="#72CB3E" stroke-width="0.9"/><path d="M201.93 262.60L204.73 265.40M201.93 265.40L204.73 262.60" stroke="#72CB3E" stroke-width="0.9"/><path d="M206.44 265.20L209.24 268.00M206.44 268.00L209.24 265.20" stroke="#72CB3E" stroke-width="0.9"/><path d="M210.96 266.30L213.76 269.10M210.96 269.10L213.76 266.30" stroke="#72CB3E" stroke-width="0.9"/><path d="M215.47 266.30L218.27 269.10M215.47 269.10L218.27 266.30" stroke="#72CB3E" stroke-width="0.9"/><path d="M219.99 266.30L222.79 269.10M219.99 269.10L222.79 266.30" stroke="#72CB3E" stroke-width="0.9"/><path d="M224.50 266.30L227.30 269.10M224.50 269.10L227.30 266.30" stroke="#72CB3E" stroke-width="0.9"/><path d="M229.02 277.70L231.82 280.50M229.02 280.50L231.82 277.70" stroke="#72CB3E" stroke-width="0.9"/><path d="M233.53 282.40L236.33 285.20M233.53 285.20L236.33 282.40" stroke="#72CB3E" stroke-width="0.9"/><path d="M238.05 284.90L240.85 287.70M238.05 287.70L240.85 284.90" stroke="#72CB3E" stroke-width="0.9"/><path d="M242.56 286.70L245.36 289.50M242.56 289.50L245.36 286.70" stroke="#72CB3E" stroke-width="0.9"/><path d="M247.08 287.50L249.88 290.30M247.08 290.30L249.88 287.50" stroke="#72CB3E" stroke-width="0.9"/><path d="M251.59 293.80L254.39 296.60M251.59 296.60L254.39 293.80" stroke="#72CB3E" stroke-width="0.9"/><path d="M256.11 296.30L258.91 299.10M256.11 299.10L258.91 296.30" stroke="#72CB3E" stroke-width="0.9"/><path d="M260.62 296.30L263.42 299.10M260.62 299.10L263.42 296.30" stroke="#72CB3E" stroke-width="0.9"/><path d="M265.14 296.30L267.94 299.10M265.14 299.10L267.94 296.30" stroke="#72CB3E" stroke-width="0.9"/><path d="M269.65 296.30L272.45 299.10M269.65 299.10L272.45 296.30" stroke="#72CB3E" stroke-width="0.9"/><path d="M274.17 296.30L276.97 299.10M274.17 299.10L276.97 296.30" stroke="#72CB3E" stroke-width="0.9"/><path d="M278.68 296.30L281.48 299.10M278.68 299.10L281.48 296.30" stroke="#72CB3E" stroke-width="0.9"/><path d="M283.20 296.30L286.00 299.10M283.20 299.10L286.00 296.30" stroke="#72CB3E" stroke-width="0.9"/><path d="M287.71 296.30L290.51 299.10M287.71 299.10L290.51 296.30" stroke="#72CB3E" stroke-width="0.9"/><path d="M292.23 296.30L295.03 299.10M292.23 299.10L295.03 296.30" stroke="#72CB3E" stroke-width="0.9"/><path d="M296.74 296.30L299.54 299.10M296.74 299.10L299.54 296.30" stroke="#72CB3E" stroke-width="0.9"/><path d="M301.26 296.30L304.06 299.10M301.26 299.10L304.06 296.30" stroke="#72CB3E" stroke-width="0.9"/><path d="M305.77 329.60L308.57 332.40M305.77 332.40L308.57 329.60" stroke="#72CB3E" stroke-width="0.9"/><path d="M310.29 356.90L313.09 359.70M310.29 359.70L313.09 356.90" stroke="#72CB3E" stroke-width="0.9"/><path d="M314.80 356.90L317.60 359.70M314.80 359.70L317.60 356.90" stroke="#72CB3E" stroke-width="0.9"/><path d="M319.32 356.90L322.12 359.70M319.32 359.70L322.12 356.90" stroke="#72CB3E" stroke-width="0.9"/><path d="M323.83 356.90L326.63 359.70M323.83 359.70L326.63 356.90" stroke="#72CB3E" stroke-width="0.9"/><path d="M328.35 393.30L331.15 396.10M328.35 396.10L331.15 393.30" stroke="#72CB3E" stroke-width="0.9"/><path d="M332.86 393.30L335.66 396.10M332.86 396.10L335.66 393.30" stroke="#72CB3E" stroke-width="0.9"/>
<path d="M26.30 394.70H29.50M26.30 366.00H29.50M26.30 337.30H29.50M26.30 308.60H29.50M26.30 279.90H29.50M26.30 251.20H29.50M26.30 222.50H29.50M29.50 394.70V397.30M52.08 394.70V397.30M74.65 394.70V397.30M97.22 394.70V397.30M119.80 394.70V397.30M142.38 394.70V397.30M164.95 394.70V397.30M187.52 394.70V397.30M210.10 394.70V397.30M232.67 394.70V397.30M255.25 394.70V397.30M277.82 394.70V397.30M300.40 394.70V397.30M322.97 394.70V397.30" stroke="#1e1e1e" stroke-width="1.15"/>
<text x="21.90" y="397.70" text-anchor="end" class="tk">0</text>
<text x="21.90" y="369.00" text-anchor="end" class="tk">0.1</text>
<text x="21.90" y="340.30" text-anchor="end" class="tk">0.2</text>
<text x="21.90" y="311.60" text-anchor="end" class="tk">0.3</text>
<text x="21.90" y="282.90" text-anchor="end" class="tk">0.4</text>
<text x="21.90" y="254.20" text-anchor="end" class="tk">0.5</text>
<text x="21.90" y="225.50" text-anchor="end" class="tk">0.6</text>
<text x="31.76" y="408.40" text-anchor="middle" class="tk">1</text>
<text x="54.33" y="408.40" text-anchor="middle" class="tk">6</text>
<text x="76.91" y="408.40" text-anchor="middle" class="tk">11</text>
<text x="99.48" y="408.40" text-anchor="middle" class="tk">16</text>
<text x="122.06" y="408.40" text-anchor="middle" class="tk">21</text>
<text x="144.63" y="408.40" text-anchor="middle" class="tk">26</text>
<text x="167.21" y="408.40" text-anchor="middle" class="tk">31</text>
<text x="189.78" y="408.40" text-anchor="middle" class="tk">36</text>
<text x="212.36" y="408.40" text-anchor="middle" class="tk">41</text>
<text x="234.93" y="408.40" text-anchor="middle" class="tk">46</text>
<text x="257.51" y="408.40" text-anchor="middle" class="tk">51</text>
<text x="280.08" y="408.40" text-anchor="middle" class="tk">56</text>
<text x="302.66" y="408.40" text-anchor="middle" class="tk">61</text>
<text x="325.23" y="408.40" text-anchor="middle" class="tk">66</text>
<text x="182.80" y="418.70" text-anchor="middle" class="ti">Number of Attacked Nodes</text>
<text transform="translate(9.10,304.50) rotate(-90)" text-anchor="middle" class="ti">Global Efficiency</text>
<text x="44.00" y="227.10" class="pl">(c)</text>
<path d="M280.70 223.10H295.00" stroke="#4472C4" stroke-width="1.25"/>
<path d="M287.85 220.50L290.45 225.05L285.25 225.05Z" fill="#4472C4"/>
<text x="296.90" y="226.50" class="ti">Degree</text>
<path d="M280.70 235.70H295.00" stroke="#ED7D31" stroke-width="1.25"/>
<circle cx="287.85" cy="235.70" r="1.75" fill="#ED7D31"/>
<text x="296.90" y="239.10" class="ti">Indegree</text>
<path d="M280.70 248.30H295.00" stroke="#E6BF2D" stroke-width="1.25"/>
<circle cx="287.85" cy="248.30" r="1.3" fill="#E6BF2D"/>
<text x="296.90" y="251.70" class="ti">Outdegree</text>
<path d="M280.70 261.00H295.00" stroke="#72CB3E" stroke-width="1.25"/>
<path d="M286.45 259.60L289.25 262.40M286.45 262.40L289.25 259.60" stroke="#72CB3E" stroke-width="0.9"/>
<text x="296.90" y="264.40" class="ti">Rand</text>
<path d="M374.20 222.50V394.70H681.36" fill="none" stroke="#1e1e1e" stroke-width="1.2"/>
<polyline points="376.46,247.50 380.98,256.90 385.49,262.00 390.01,264.40 394.53,266.80 399.04,274.50 403.56,276.30 408.08,279.30 412.59,286.80 417.11,293.00 421.63,297.50 426.15,300.80 430.66,302.50 435.18,310.00 439.70,313.70 444.21,318.30 448.73,320.80 453.25,325.00 457.76,328.30 462.28,334.20 466.80,338.00 471.32,340.20 475.83,343.70 480.35,350.00 484.87,353.30 489.38,365.00 493.90,367.00 498.42,368.00 502.93,369.20 507.45,375.30 511.97,379.00 516.49,380.00 521.00,380.70 525.52,382.50 530.04,383.00 534.55,384.50 539.07,384.50 543.59,385.50 548.10,384.50 552.62,387.50 557.14,388.60 561.66,388.60 566.17,388.60 570.69,388.60 575.21,388.60 579.72,388.60 584.24,389.20 588.76,390.10 593.27,390.40 597.79,391.00 602.31,391.30 606.83,393.00 611.34,393.40 615.86,393.40 620.38,393.40 624.89,393.40 629.41,393.40 633.93,392.00 638.44,394.70 642.96,394.70 647.48,394.70 652.00,394.70 656.51,394.70 661.03,394.70 665.55,394.70 670.06,394.70 674.58,394.70 679.10,394.70" fill="none" stroke="#4472C4" stroke-width="1.25" stroke-linejoin="round"/>
<path d="M376.46 244.90L379.06 249.45L373.86 249.45Z" fill="#4472C4"/><path d="M380.98 254.30L383.58 258.85L378.38 258.85Z" fill="#4472C4"/><path d="M385.49 259.40L388.09 263.95L382.89 263.95Z" fill="#4472C4"/><path d="M390.01 261.80L392.61 266.35L387.41 266.35Z" fill="#4472C4"/><path d="M394.53 264.20L397.13 268.75L391.93 268.75Z" fill="#4472C4"/><path d="M399.04 271.90L401.64 276.45L396.44 276.45Z" fill="#4472C4"/><path d="M403.56 273.70L406.16 278.25L400.96 278.25Z" fill="#4472C4"/><path d="M408.08 276.70L410.68 281.25L405.48 281.25Z" fill="#4472C4"/><path d="M412.59 284.20L415.19 288.75L409.99 288.75Z" fill="#4472C4"/><path d="M417.11 290.40L419.71 294.95L414.51 294.95Z" fill="#4472C4"/><path d="M421.63 294.90L424.23 299.45L419.03 299.45Z" fill="#4472C4"/><path d="M426.15 298.20L428.75 302.75L423.55 302.75Z" fill="#4472C4"/><path d="M430.66 299.90L433.26 304.45L428.06 304.45Z" fill="#4472C4"/><path d="M435.18 307.40L437.78 311.95L432.58 311.95Z" fill="#4472C4"/><path d="M439.70 311.10L442.30 315.65L437.10 315.65Z" fill="#4472C4"/><path d="M444.21 315.70L446.81 320.25L441.61 320.25Z" fill="#4472C4"/><path d="M448.73 318.20L451.33 322.75L446.13 322.75Z" fill="#4472C4"/><path d="M453.25 322.40L455.85 326.95L450.65 326.95Z" fill="#4472C4"/><path d="M457.76 325.70L460.36 330.25L455.16 330.25Z" fill="#4472C4"/><path d="M462.28 331.60L464.88 336.15L459.68 336.15Z" fill="#4472C4"/><path d="M466.80 335.40L469.40 339.95L464.20 339.95Z" fill="#4472C4"/><path d="M471.32 337.60L473.92 342.15L468.72 342.15Z" fill="#4472C4"/><path d="M475.83 341.10L478.43 345.65L473.23 345.65Z" fill="#4472C4"/><path d="M480.35 347.40L482.95 351.95L477.75 351.95Z" fill="#4472C4"/><path d="M484.87 350.70L487.47 355.25L482.27 355.25Z" fill="#4472C4"/><path d="M489.38 362.40L491.98 366.95L486.78 366.95Z" fill="#4472C4"/><path d="M493.90 364.40L496.50 368.95L491.30 368.95Z" fill="#4472C4"/><path d="M498.42 365.40L501.02 369.95L495.82 369.95Z" fill="#4472C4"/><path d="M502.93 366.60L505.53 371.15L500.33 371.15Z" fill="#4472C4"/><path d="M507.45 372.70L510.05 377.25L504.85 377.25Z" fill="#4472C4"/><path d="M511.97 376.40L514.57 380.95L509.37 380.95Z" fill="#4472C4"/><path d="M516.49 377.40L519.09 381.95L513.89 381.95Z" fill="#4472C4"/><path d="M521.00 378.10L523.60 382.65L518.40 382.65Z" fill="#4472C4"/><path d="M525.52 379.90L528.12 384.45L522.92 384.45Z" fill="#4472C4"/><path d="M530.04 380.40L532.64 384.95L527.44 384.95Z" fill="#4472C4"/><path d="M534.55 381.90L537.15 386.45L531.95 386.45Z" fill="#4472C4"/><path d="M539.07 381.90L541.67 386.45L536.47 386.45Z" fill="#4472C4"/><path d="M543.59 382.90L546.19 387.45L540.99 387.45Z" fill="#4472C4"/><path d="M548.10 381.90L550.70 386.45L545.50 386.45Z" fill="#4472C4"/><path d="M552.62 384.90L555.22 389.45L550.02 389.45Z" fill="#4472C4"/><path d="M557.14 386.00L559.74 390.55L554.54 390.55Z" fill="#4472C4"/><path d="M561.66 386.00L564.26 390.55L559.06 390.55Z" fill="#4472C4"/><path d="M566.17 386.00L568.77 390.55L563.57 390.55Z" fill="#4472C4"/><path d="M570.69 386.00L573.29 390.55L568.09 390.55Z" fill="#4472C4"/><path d="M575.21 386.00L577.81 390.55L572.61 390.55Z" fill="#4472C4"/><path d="M579.72 386.00L582.32 390.55L577.12 390.55Z" fill="#4472C4"/><path d="M584.24 386.60L586.84 391.15L581.64 391.15Z" fill="#4472C4"/><path d="M588.76 387.50L591.36 392.05L586.16 392.05Z" fill="#4472C4"/><path d="M593.27 387.80L595.87 392.35L590.67 392.35Z" fill="#4472C4"/><path d="M597.79 388.40L600.39 392.95L595.19 392.95Z" fill="#4472C4"/><path d="M602.31 388.70L604.91 393.25L599.71 393.25Z" fill="#4472C4"/><path d="M606.83 390.40L609.43 394.95L604.23 394.95Z" fill="#4472C4"/><path d="M611.34 390.80L613.94 395.35L608.74 395.35Z" fill="#4472C4"/><path d="M615.86 390.80L618.46 395.35L613.26 395.35Z" fill="#4472C4"/><path d="M620.38 390.80L622.98 395.35L617.78 395.35Z" fill="#4472C4"/><path d="M624.89 390.80L627.49 395.35L622.29 395.35Z" fill="#4472C4"/><path d="M629.41 390.80L632.01 395.35L626.81 395.35Z" fill="#4472C4"/><path d="M633.93 389.40L636.53 393.95L631.33 393.95Z" fill="#4472C4"/><path d="M638.44 392.10L641.04 396.65L635.84 396.65Z" fill="#4472C4"/><path d="M642.96 392.10L645.56 396.65L640.36 396.65Z" fill="#4472C4"/><path d="M647.48 392.10L650.08 396.65L644.88 396.65Z" fill="#4472C4"/><path d="M652.00 392.10L654.60 396.65L649.40 396.65Z" fill="#4472C4"/><path d="M656.51 392.10L659.11 396.65L653.91 396.65Z" fill="#4472C4"/><path d="M661.03 392.10L663.63 396.65L658.43 396.65Z" fill="#4472C4"/><path d="M665.55 392.10L668.15 396.65L662.95 396.65Z" fill="#4472C4"/><path d="M670.06 392.10L672.66 396.65L667.46 396.65Z" fill="#4472C4"/><path d="M674.58 392.10L677.18 396.65L671.98 396.65Z" fill="#4472C4"/><path d="M679.10 392.10L681.70 396.65L676.50 396.65Z" fill="#4472C4"/>
<polyline points="376.46,247.40 380.98,255.50 385.49,260.80 390.01,262.00 394.53,268.00 399.04,271.50 403.56,272.40 408.08,277.00 412.59,280.00 417.11,281.70 421.63,282.00 426.15,286.00 430.66,286.30 435.18,289.50 439.70,289.70 444.21,293.70 448.73,298.70 453.25,303.00 457.76,306.70 462.28,308.70 466.80,314.70 471.32,316.30 475.83,317.00 480.35,317.50 484.87,322.50 489.38,328.30 493.90,330.80 498.42,332.50 502.93,352.50 507.45,365.20 511.97,365.00 516.49,370.00 521.00,371.40 525.52,371.40 530.04,371.40 534.55,374.20 539.07,375.80 543.59,377.50 548.10,377.50 552.62,377.50 557.14,377.50 561.66,377.50 566.17,379.30 570.69,378.90 575.21,382.40 579.72,385.50 584.24,386.30 588.76,386.30 593.27,388.60 597.79,389.50 602.31,390.00 606.83,391.00 611.34,391.70 615.86,391.70 620.38,392.00 624.89,392.10 629.41,392.30 633.93,394.30 638.44,394.70 642.96,394.70 647.48,394.70 652.00,394.70 656.51,394.70 661.03,394.70 665.55,394.70 670.06,394.70 674.58,394.70 679.10,394.70" fill="none" stroke="#ED7D31" stroke-width="1.25" stroke-linejoin="round"/>
<circle cx="376.46" cy="247.40" r="1.75" fill="#ED7D31"/><circle cx="380.98" cy="255.50" r="1.75" fill="#ED7D31"/><circle cx="385.49" cy="260.80" r="1.75" fill="#ED7D31"/><circle cx="390.01" cy="262.00" r="1.75" fill="#ED7D31"/><circle cx="394.53" cy="268.00" r="1.75" fill="#ED7D31"/><circle cx="399.04" cy="271.50" r="1.75" fill="#ED7D31"/><circle cx="403.56" cy="272.40" r="1.75" fill="#ED7D31"/><circle cx="408.08" cy="277.00" r="1.75" fill="#ED7D31"/><circle cx="412.59" cy="280.00" r="1.75" fill="#ED7D31"/><circle cx="417.11" cy="281.70" r="1.75" fill="#ED7D31"/><circle cx="421.63" cy="282.00" r="1.75" fill="#ED7D31"/><circle cx="426.15" cy="286.00" r="1.75" fill="#ED7D31"/><circle cx="430.66" cy="286.30" r="1.75" fill="#ED7D31"/><circle cx="435.18" cy="289.50" r="1.75" fill="#ED7D31"/><circle cx="439.70" cy="289.70" r="1.75" fill="#ED7D31"/><circle cx="444.21" cy="293.70" r="1.75" fill="#ED7D31"/><circle cx="448.73" cy="298.70" r="1.75" fill="#ED7D31"/><circle cx="453.25" cy="303.00" r="1.75" fill="#ED7D31"/><circle cx="457.76" cy="306.70" r="1.75" fill="#ED7D31"/><circle cx="462.28" cy="308.70" r="1.75" fill="#ED7D31"/><circle cx="466.80" cy="314.70" r="1.75" fill="#ED7D31"/><circle cx="471.32" cy="316.30" r="1.75" fill="#ED7D31"/><circle cx="475.83" cy="317.00" r="1.75" fill="#ED7D31"/><circle cx="480.35" cy="317.50" r="1.75" fill="#ED7D31"/><circle cx="484.87" cy="322.50" r="1.75" fill="#ED7D31"/><circle cx="489.38" cy="328.30" r="1.75" fill="#ED7D31"/><circle cx="493.90" cy="330.80" r="1.75" fill="#ED7D31"/><circle cx="498.42" cy="332.50" r="1.75" fill="#ED7D31"/><circle cx="502.93" cy="352.50" r="1.75" fill="#ED7D31"/><circle cx="507.45" cy="365.20" r="1.75" fill="#ED7D31"/><circle cx="511.97" cy="365.00" r="1.75" fill="#ED7D31"/><circle cx="516.49" cy="370.00" r="1.75" fill="#ED7D31"/><circle cx="521.00" cy="371.40" r="1.75" fill="#ED7D31"/><circle cx="525.52" cy="371.40" r="1.75" fill="#ED7D31"/><circle cx="530.04" cy="371.40" r="1.75" fill="#ED7D31"/><circle cx="534.55" cy="374.20" r="1.75" fill="#ED7D31"/><circle cx="539.07" cy="375.80" r="1.75" fill="#ED7D31"/><circle cx="543.59" cy="377.50" r="1.75" fill="#ED7D31"/><circle cx="548.10" cy="377.50" r="1.75" fill="#ED7D31"/><circle cx="552.62" cy="377.50" r="1.75" fill="#ED7D31"/><circle cx="557.14" cy="377.50" r="1.75" fill="#ED7D31"/><circle cx="561.66" cy="377.50" r="1.75" fill="#ED7D31"/><circle cx="566.17" cy="379.30" r="1.75" fill="#ED7D31"/><circle cx="570.69" cy="378.90" r="1.75" fill="#ED7D31"/><circle cx="575.21" cy="382.40" r="1.75" fill="#ED7D31"/><circle cx="579.72" cy="385.50" r="1.75" fill="#ED7D31"/><circle cx="584.24" cy="386.30" r="1.75" fill="#ED7D31"/><circle cx="588.76" cy="386.30" r="1.75" fill="#ED7D31"/><circle cx="593.27" cy="388.60" r="1.75" fill="#ED7D31"/><circle cx="597.79" cy="389.50" r="1.75" fill="#ED7D31"/><circle cx="602.31" cy="390.00" r="1.75" fill="#ED7D31"/><circle cx="606.83" cy="391.00" r="1.75" fill="#ED7D31"/><circle cx="611.34" cy="391.70" r="1.75" fill="#ED7D31"/><circle cx="615.86" cy="391.70" r="1.75" fill="#ED7D31"/><circle cx="620.38" cy="392.00" r="1.75" fill="#ED7D31"/><circle cx="624.89" cy="392.10" r="1.75" fill="#ED7D31"/><circle cx="629.41" cy="392.30" r="1.75" fill="#ED7D31"/><circle cx="633.93" cy="394.30" r="1.75" fill="#ED7D31"/><circle cx="638.44" cy="394.70" r="1.75" fill="#ED7D31"/><circle cx="642.96" cy="394.70" r="1.75" fill="#ED7D31"/><circle cx="647.48" cy="394.70" r="1.75" fill="#ED7D31"/><circle cx="652.00" cy="394.70" r="1.75" fill="#ED7D31"/><circle cx="656.51" cy="394.70" r="1.75" fill="#ED7D31"/><circle cx="661.03" cy="394.70" r="1.75" fill="#ED7D31"/><circle cx="665.55" cy="394.70" r="1.75" fill="#ED7D31"/><circle cx="670.06" cy="394.70" r="1.75" fill="#ED7D31"/><circle cx="674.58" cy="394.70" r="1.75" fill="#ED7D31"/><circle cx="679.10" cy="394.70" r="1.75" fill="#ED7D31"/>
<polyline points="376.46,247.70 380.98,255.20 385.49,259.00 390.01,261.40 394.53,265.60 399.04,273.30 403.56,275.70 408.08,277.50 412.59,285.50 417.11,289.00 421.63,291.70 426.15,300.00 430.66,303.30 435.18,304.70 439.70,311.70 444.21,315.00 448.73,317.50 453.25,320.00 457.76,325.00 462.28,326.30 466.80,330.30 471.32,331.60 475.83,334.60 480.35,336.90 484.87,339.40 489.38,343.00 493.90,345.00 498.42,358.30 502.93,363.40 507.45,369.20 511.97,373.30 516.49,373.30 521.00,378.00 525.52,379.50 530.04,381.50 534.55,381.60 539.07,381.60 543.59,383.80 548.10,385.90 552.62,386.60 557.14,386.90 561.66,386.90 566.17,388.00 570.69,388.20 575.21,388.20 579.72,388.60 584.24,389.40 588.76,390.10 593.27,390.10 597.79,390.20 602.31,390.60 606.83,391.00 611.34,391.70 615.86,392.10 620.38,392.30 624.89,392.30 629.41,392.30 633.93,394.30 638.44,394.70 642.96,394.70 647.48,394.70 652.00,394.70 656.51,394.70 661.03,394.70 665.55,394.70 670.06,394.70 674.58,394.70 679.10,394.70" fill="none" stroke="#E6BF2D" stroke-width="1.25" stroke-linejoin="round"/>
<circle cx="376.46" cy="247.70" r="1.3" fill="#E6BF2D"/><circle cx="380.98" cy="255.20" r="1.3" fill="#E6BF2D"/><circle cx="385.49" cy="259.00" r="1.3" fill="#E6BF2D"/><circle cx="390.01" cy="261.40" r="1.3" fill="#E6BF2D"/><circle cx="394.53" cy="265.60" r="1.3" fill="#E6BF2D"/><circle cx="399.04" cy="273.30" r="1.3" fill="#E6BF2D"/><circle cx="403.56" cy="275.70" r="1.3" fill="#E6BF2D"/><circle cx="408.08" cy="277.50" r="1.3" fill="#E6BF2D"/><circle cx="412.59" cy="285.50" r="1.3" fill="#E6BF2D"/><circle cx="417.11" cy="289.00" r="1.3" fill="#E6BF2D"/><circle cx="421.63" cy="291.70" r="1.3" fill="#E6BF2D"/><circle cx="426.15" cy="300.00" r="1.3" fill="#E6BF2D"/><circle cx="430.66" cy="303.30" r="1.3" fill="#E6BF2D"/><circle cx="435.18" cy="304.70" r="1.3" fill="#E6BF2D"/><circle cx="439.70" cy="311.70" r="1.3" fill="#E6BF2D"/><circle cx="444.21" cy="315.00" r="1.3" fill="#E6BF2D"/><circle cx="448.73" cy="317.50" r="1.3" fill="#E6BF2D"/><circle cx="453.25" cy="320.00" r="1.3" fill="#E6BF2D"/><circle cx="457.76" cy="325.00" r="1.3" fill="#E6BF2D"/><circle cx="462.28" cy="326.30" r="1.3" fill="#E6BF2D"/><circle cx="466.80" cy="330.30" r="1.3" fill="#E6BF2D"/><circle cx="471.32" cy="331.60" r="1.3" fill="#E6BF2D"/><circle cx="475.83" cy="334.60" r="1.3" fill="#E6BF2D"/><circle cx="480.35" cy="336.90" r="1.3" fill="#E6BF2D"/><circle cx="484.87" cy="339.40" r="1.3" fill="#E6BF2D"/><circle cx="489.38" cy="343.00" r="1.3" fill="#E6BF2D"/><circle cx="493.90" cy="345.00" r="1.3" fill="#E6BF2D"/><circle cx="498.42" cy="358.30" r="1.3" fill="#E6BF2D"/><circle cx="502.93" cy="363.40" r="1.3" fill="#E6BF2D"/><circle cx="507.45" cy="369.20" r="1.3" fill="#E6BF2D"/><circle cx="511.97" cy="373.30" r="1.3" fill="#E6BF2D"/><circle cx="516.49" cy="373.30" r="1.3" fill="#E6BF2D"/><circle cx="521.00" cy="378.00" r="1.3" fill="#E6BF2D"/><circle cx="525.52" cy="379.50" r="1.3" fill="#E6BF2D"/><circle cx="530.04" cy="381.50" r="1.3" fill="#E6BF2D"/><circle cx="534.55" cy="381.60" r="1.3" fill="#E6BF2D"/><circle cx="539.07" cy="381.60" r="1.3" fill="#E6BF2D"/><circle cx="543.59" cy="383.80" r="1.3" fill="#E6BF2D"/><circle cx="548.10" cy="385.90" r="1.3" fill="#E6BF2D"/><circle cx="552.62" cy="386.60" r="1.3" fill="#E6BF2D"/><circle cx="557.14" cy="386.90" r="1.3" fill="#E6BF2D"/><circle cx="561.66" cy="386.90" r="1.3" fill="#E6BF2D"/><circle cx="566.17" cy="388.00" r="1.3" fill="#E6BF2D"/><circle cx="570.69" cy="388.20" r="1.3" fill="#E6BF2D"/><circle cx="575.21" cy="388.20" r="1.3" fill="#E6BF2D"/><circle cx="579.72" cy="388.60" r="1.3" fill="#E6BF2D"/><circle cx="584.24" cy="389.40" r="1.3" fill="#E6BF2D"/><circle cx="588.76" cy="390.10" r="1.3" fill="#E6BF2D"/><circle cx="593.27" cy="390.10" r="1.3" fill="#E6BF2D"/><circle cx="597.79" cy="390.20" r="1.3" fill="#E6BF2D"/><circle cx="602.31" cy="390.60" r="1.3" fill="#E6BF2D"/><circle cx="606.83" cy="391.00" r="1.3" fill="#E6BF2D"/><circle cx="611.34" cy="391.70" r="1.3" fill="#E6BF2D"/><circle cx="615.86" cy="392.10" r="1.3" fill="#E6BF2D"/><circle cx="620.38" cy="392.30" r="1.3" fill="#E6BF2D"/><circle cx="624.89" cy="392.30" r="1.3" fill="#E6BF2D"/><circle cx="629.41" cy="392.30" r="1.3" fill="#E6BF2D"/><circle cx="633.93" cy="394.30" r="1.3" fill="#E6BF2D"/><circle cx="638.44" cy="394.70" r="1.3" fill="#E6BF2D"/><circle cx="642.96" cy="394.70" r="1.3" fill="#E6BF2D"/><circle cx="647.48" cy="394.70" r="1.3" fill="#E6BF2D"/><circle cx="652.00" cy="394.70" r="1.3" fill="#E6BF2D"/><circle cx="656.51" cy="394.70" r="1.3" fill="#E6BF2D"/><circle cx="661.03" cy="394.70" r="1.3" fill="#E6BF2D"/><circle cx="665.55" cy="394.70" r="1.3" fill="#E6BF2D"/><circle cx="670.06" cy="394.70" r="1.3" fill="#E6BF2D"/><circle cx="674.58" cy="394.70" r="1.3" fill="#E6BF2D"/><circle cx="679.10" cy="394.70" r="1.3" fill="#E6BF2D"/>
<polyline points="376.46,247.50 380.98,247.90 385.49,247.90 390.01,247.90 394.53,247.90 399.04,247.90 403.56,247.90 408.08,247.90 412.59,247.90 417.11,247.90 421.63,247.90 426.15,247.90 430.66,247.90 435.18,247.90 439.70,247.90 444.21,247.90 448.73,247.90 453.25,247.90 457.76,247.90 462.28,247.90 466.80,247.90 471.32,247.90 475.83,247.90 480.35,250.60 484.87,252.10 489.38,252.60 493.90,252.60 498.42,252.60 502.93,252.60 507.45,252.60 511.97,256.80 516.49,258.70 521.00,258.70 525.52,258.70 530.04,258.70 534.55,258.70 539.07,258.70 543.59,258.70 548.10,258.70 552.62,258.70 557.14,258.70 561.66,275.80 566.17,276.70 570.69,281.00 575.21,281.00 579.72,281.00 584.24,297.60 588.76,297.60 593.27,297.60 597.79,305.00 602.31,312.00 606.83,334.40 611.34,335.00 615.86,340.30 620.38,348.80 624.89,348.80 629.41,348.80 633.93,348.80 638.44,348.80 642.96,348.80 647.48,348.80 652.00,348.80 656.51,348.80 661.03,370.60 665.55,370.60 670.06,370.60 674.58,394.70 679.10,394.70" fill="none" stroke="#72CB3E" stroke-width="1.25" stroke-linejoin="round"/>
<path d="M375.06 246.10L377.86 248.90M375.06 248.90L377.86 246.10" stroke="#72CB3E" stroke-width="0.9"/><path d="M379.58 246.50L382.38 249.30M379.58 249.30L382.38 246.50" stroke="#72CB3E" stroke-width="0.9"/><path d="M384.09 246.50L386.89 249.30M384.09 249.30L386.89 246.50" stroke="#72CB3E" stroke-width="0.9"/><path d="M388.61 246.50L391.41 249.30M388.61 249.30L391.41 246.50" stroke="#72CB3E" stroke-width="0.9"/><path d="M393.13 246.50L395.93 249.30M393.13 249.30L395.93 246.50" stroke="#72CB3E" stroke-width="0.9"/><path d="M397.64 246.50L400.44 249.30M397.64 249.30L400.44 246.50" stroke="#72CB3E" stroke-width="0.9"/><path d="M402.16 246.50L404.96 249.30M402.16 249.30L404.96 246.50" stroke="#72CB3E" stroke-width="0.9"/><path d="M406.68 246.50L409.48 249.30M406.68 249.30L409.48 246.50" stroke="#72CB3E" stroke-width="0.9"/><path d="M411.19 246.50L413.99 249.30M411.19 249.30L413.99 246.50" stroke="#72CB3E" stroke-width="0.9"/><path d="M415.71 246.50L418.51 249.30M415.71 249.30L418.51 246.50" stroke="#72CB3E" stroke-width="0.9"/><path d="M420.23 246.50L423.03 249.30M420.23 249.30L423.03 246.50" stroke="#72CB3E" stroke-width="0.9"/><path d="M424.75 246.50L427.55 249.30M424.75 249.30L427.55 246.50" stroke="#72CB3E" stroke-width="0.9"/><path d="M429.26 246.50L432.06 249.30M429.26 249.30L432.06 246.50" stroke="#72CB3E" stroke-width="0.9"/><path d="M433.78 246.50L436.58 249.30M433.78 249.30L436.58 246.50" stroke="#72CB3E" stroke-width="0.9"/><path d="M438.30 246.50L441.10 249.30M438.30 249.30L441.10 246.50" stroke="#72CB3E" stroke-width="0.9"/><path d="M442.81 246.50L445.61 249.30M442.81 249.30L445.61 246.50" stroke="#72CB3E" stroke-width="0.9"/><path d="M447.33 246.50L450.13 249.30M447.33 249.30L450.13 246.50" stroke="#72CB3E" stroke-width="0.9"/><path d="M451.85 246.50L454.65 249.30M451.85 249.30L454.65 246.50" stroke="#72CB3E" stroke-width="0.9"/><path d="M456.36 246.50L459.16 249.30M456.36 249.30L459.16 246.50" stroke="#72CB3E" stroke-width="0.9"/><path d="M460.88 246.50L463.68 249.30M460.88 249.30L463.68 246.50" stroke="#72CB3E" stroke-width="0.9"/><path d="M465.40 246.50L468.20 249.30M465.40 249.30L468.20 246.50" stroke="#72CB3E" stroke-width="0.9"/><path d="M469.92 246.50L472.72 249.30M469.92 249.30L472.72 246.50" stroke="#72CB3E" stroke-width="0.9"/><path d="M474.43 246.50L477.23 249.30M474.43 249.30L477.23 246.50" stroke="#72CB3E" stroke-width="0.9"/><path d="M478.95 249.20L481.75 252.00M478.95 252.00L481.75 249.20" stroke="#72CB3E" stroke-width="0.9"/><path d="M483.47 250.70L486.27 253.50M483.47 253.50L486.27 250.70" stroke="#72CB3E" stroke-width="0.9"/><path d="M487.98 251.20L490.78 254.00M487.98 254.00L490.78 251.20" stroke="#72CB3E" stroke-width="0.9"/><path d="M492.50 251.20L495.30 254.00M492.50 254.00L495.30 251.20" stroke="#72CB3E" stroke-width="0.9"/><path d="M497.02 251.20L499.82 254.00M497.02 254.00L499.82 251.20" stroke="#72CB3E" stroke-width="0.9"/><path d="M501.53 251.20L504.33 254.00M501.53 254.00L504.33 251.20" stroke="#72CB3E" stroke-width="0.9"/><path d="M506.05 251.20L508.85 254.00M506.05 254.00L508.85 251.20" stroke="#72CB3E" stroke-width="0.9"/><path d="M510.57 255.40L513.37 258.20M510.57 258.20L513.37 255.40" stroke="#72CB3E" stroke-width="0.9"/><path d="M515.09 257.30L517.89 260.10M515.09 260.10L517.89 257.30" stroke="#72CB3E" stroke-width="0.9"/><path d="M519.60 257.30L522.40 260.10M519.60 260.10L522.40 257.30" stroke="#72CB3E" stroke-width="0.9"/><path d="M524.12 257.30L526.92 260.10M524.12 260.10L526.92 257.30" stroke="#72CB3E" stroke-width="0.9"/><path d="M528.64 257.30L531.44 260.10M528.64 260.10L531.44 257.30" stroke="#72CB3E" stroke-width="0.9"/><path d="M533.15 257.30L535.95 260.10M533.15 260.10L535.95 257.30" stroke="#72CB3E" stroke-width="0.9"/><path d="M537.67 257.30L540.47 260.10M537.67 260.10L540.47 257.30" stroke="#72CB3E" stroke-width="0.9"/><path d="M542.19 257.30L544.99 260.10M542.19 260.10L544.99 257.30" stroke="#72CB3E" stroke-width="0.9"/><path d="M546.70 257.30L549.50 260.10M546.70 260.10L549.50 257.30" stroke="#72CB3E" stroke-width="0.9"/><path d="M551.22 257.30L554.02 260.10M551.22 260.10L554.02 257.30" stroke="#72CB3E" stroke-width="0.9"/><path d="M555.74 257.30L558.54 260.10M555.74 260.10L558.54 257.30" stroke="#72CB3E" stroke-width="0.9"/><path d="M560.26 274.40L563.06 277.20M560.26 277.20L563.06 274.40" stroke="#72CB3E" stroke-width="0.9"/><path d="M564.77 275.30L567.57 278.10M564.77 278.10L567.57 275.30" stroke="#72CB3E" stroke-width="0.9"/><path d="M569.29 279.60L572.09 282.40M569.29 282.40L572.09 279.60" stroke="#72CB3E" stroke-width="0.9"/><path d="M573.81 279.60L576.61 282.40M573.81 282.40L576.61 279.60" stroke="#72CB3E" stroke-width="0.9"/><path d="M578.32 279.60L581.12 282.40M578.32 282.40L581.12 279.60" stroke="#72CB3E" stroke-width="0.9"/><path d="M582.84 296.20L585.64 299.00M582.84 299.00L585.64 296.20" stroke="#72CB3E" stroke-width="0.9"/><path d="M587.36 296.20L590.16 299.00M587.36 299.00L590.16 296.20" stroke="#72CB3E" stroke-width="0.9"/><path d="M591.87 296.20L594.67 299.00M591.87 299.00L594.67 296.20" stroke="#72CB3E" stroke-width="0.9"/><path d="M596.39 303.60L599.19 306.40M596.39 306.40L599.19 303.60" stroke="#72CB3E" stroke-width="0.9"/><path d="M600.91 310.60L603.71 313.40M600.91 313.40L603.71 310.60" stroke="#72CB3E" stroke-width="0.9"/><path d="M605.43 333.00L608.23 335.80M605.43 335.80L608.23 333.00" stroke="#72CB3E" stroke-width="0.9"/><path d="M609.94 333.60L612.74 336.40M609.94 336.40L612.74 333.60" stroke="#72CB3E" stroke-width="0.9"/><path d="M614.46 338.90L617.26 341.70M614.46 341.70L617.26 338.90" stroke="#72CB3E" stroke-width="0.9"/><path d="M618.98 347.40L621.78 350.20M618.98 350.20L621.78 347.40" stroke="#72CB3E" stroke-width="0.9"/><path d="M623.49 347.40L626.29 350.20M623.49 350.20L626.29 347.40" stroke="#72CB3E" stroke-width="0.9"/><path d="M628.01 347.40L630.81 350.20M628.01 350.20L630.81 347.40" stroke="#72CB3E" stroke-width="0.9"/><path d="M632.53 347.40L635.33 350.20M632.53 350.20L635.33 347.40" stroke="#72CB3E" stroke-width="0.9"/><path d="M637.04 347.40L639.84 350.20M637.04 350.20L639.84 347.40" stroke="#72CB3E" stroke-width="0.9"/><path d="M641.56 347.40L644.36 350.20M641.56 350.20L644.36 347.40" stroke="#72CB3E" stroke-width="0.9"/><path d="M646.08 347.40L648.88 350.20M646.08 350.20L648.88 347.40" stroke="#72CB3E" stroke-width="0.9"/><path d="M650.60 347.40L653.40 350.20M650.60 350.20L653.40 347.40" stroke="#72CB3E" stroke-width="0.9"/><path d="M655.11 347.40L657.91 350.20M655.11 350.20L657.91 347.40" stroke="#72CB3E" stroke-width="0.9"/><path d="M659.63 369.20L662.43 372.00M659.63 372.00L662.43 369.20" stroke="#72CB3E" stroke-width="0.9"/><path d="M664.15 369.20L666.95 372.00M664.15 372.00L666.95 369.20" stroke="#72CB3E" stroke-width="0.9"/><path d="M668.66 369.20L671.46 372.00M668.66 372.00L671.46 369.20" stroke="#72CB3E" stroke-width="0.9"/><path d="M673.18 393.30L675.98 396.10M673.18 396.10L675.98 393.30" stroke="#72CB3E" stroke-width="0.9"/><path d="M677.70 393.30L680.50 396.10M677.70 396.10L680.50 393.30" stroke="#72CB3E" stroke-width="0.9"/>
<path d="M371.00 394.70H374.20M371.00 366.00H374.20M371.00 337.30H374.20M371.00 308.60H374.20M371.00 279.90H374.20M371.00 251.20H374.20M371.00 222.50H374.20M374.20 394.70V397.30M396.78 394.70V397.30M419.37 394.70V397.30M441.95 394.70V397.30M464.54 394.70V397.30M487.12 394.70V397.30M509.71 394.70V397.30M532.29 394.70V397.30M554.88 394.70V397.30M577.47 394.70V397.30M600.05 394.70V397.30M622.63 394.70V397.30M645.22 394.70V397.30M667.81 394.70V397.30" stroke="#1e1e1e" stroke-width="1.15"/>
<text x="366.60" y="397.70" text-anchor="end" class="tk">0</text>
<text x="366.60" y="369.00" text-anchor="end" class="tk">0.1</text>
<text x="366.60" y="340.30" text-anchor="end" class="tk">0.2</text>
<text x="366.60" y="311.60" text-anchor="end" class="tk">0.3</text>
<text x="366.60" y="282.90" text-anchor="end" class="tk">0.4</text>
<text x="366.60" y="254.20" text-anchor="end" class="tk">0.5</text>
<text x="366.60" y="225.50" text-anchor="end" class="tk">0.6</text>
<text x="376.46" y="408.40" text-anchor="middle" class="tk">1</text>
<text x="399.04" y="408.40" text-anchor="middle" class="tk">6</text>
<text x="421.63" y="408.40" text-anchor="middle" class="tk">11</text>
<text x="444.21" y="408.40" text-anchor="middle" class="tk">16</text>
<text x="466.80" y="408.40" text-anchor="middle" class="tk">21</text>
<text x="489.38" y="408.40" text-anchor="middle" class="tk">26</text>
<text x="511.97" y="408.40" text-anchor="middle" class="tk">31</text>
<text x="534.55" y="408.40" text-anchor="middle" class="tk">36</text>
<text x="557.14" y="408.40" text-anchor="middle" class="tk">41</text>
<text x="579.72" y="408.40" text-anchor="middle" class="tk">46</text>
<text x="602.31" y="408.40" text-anchor="middle" class="tk">51</text>
<text x="624.89" y="408.40" text-anchor="middle" class="tk">56</text>
<text x="647.48" y="408.40" text-anchor="middle" class="tk">61</text>
<text x="670.06" y="408.40" text-anchor="middle" class="tk">66</text>
<text x="527.60" y="418.70" text-anchor="middle" class="ti">Number of Attacked Nodes</text>
<text transform="translate(354.00,308.00) rotate(-90)" text-anchor="middle" class="ti">Global Efficiency</text>
<text x="392.30" y="226.90" class="pl">(d)</text>
<path d="M625.30 223.30H639.60" stroke="#4472C4" stroke-width="1.25"/>
<path d="M632.45 220.70L635.05 225.25L629.85 225.25Z" fill="#4472C4"/>
<text x="641.60" y="226.70" class="ti">Degree</text>
<path d="M625.30 236.00H639.60" stroke="#ED7D31" stroke-width="1.25"/>
<circle cx="632.45" cy="236.00" r="1.75" fill="#ED7D31"/>
<text x="641.60" y="239.40" class="ti">Indegree</text>
<path d="M625.30 248.60H639.60" stroke="#E6BF2D" stroke-width="1.25"/>
<circle cx="632.45" cy="248.60" r="1.3" fill="#E6BF2D"/>
<text x="641.60" y="252.00" class="ti">Outdegree</text>
<path d="M625.30 261.70H639.60" stroke="#72CB3E" stroke-width="1.25"/>
<path d="M631.05 260.30L633.85 263.10M631.05 263.10L633.85 260.30" stroke="#72CB3E" stroke-width="0.9"/>
<text x="641.60" y="265.10" class="ti">Rand</text>
</g>
</svg>
</body></html>
